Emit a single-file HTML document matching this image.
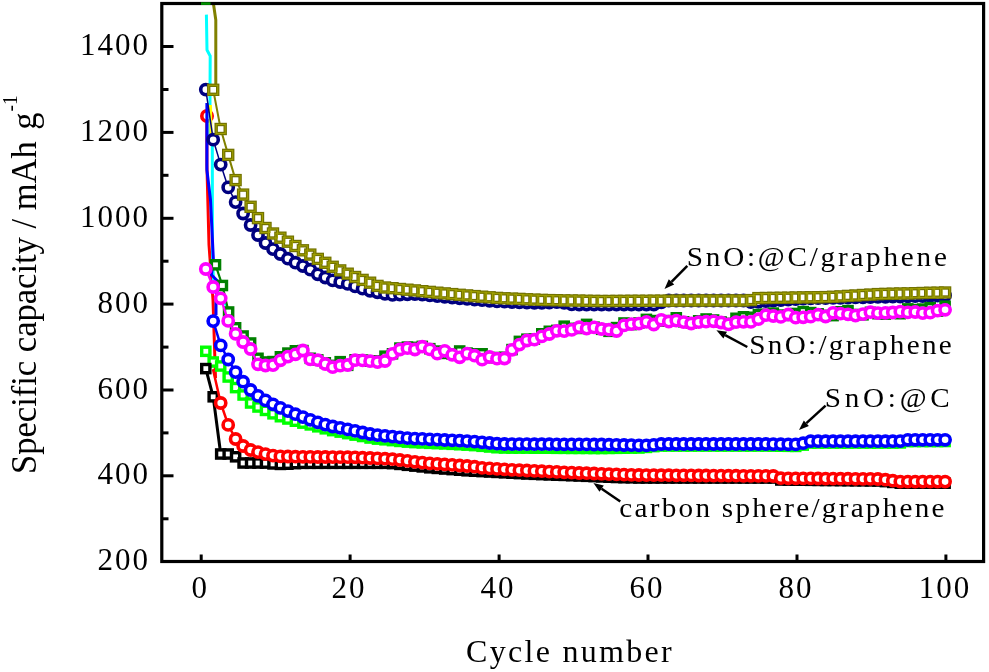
<!DOCTYPE html>
<html><head><meta charset="utf-8"><style>
html,body{margin:0;padding:0;background:#fff;width:989px;height:672px;overflow:hidden}
svg{display:block;filter:blur(0.45px)}
text{font-family:"Liberation Serif",serif;fill:#000}
.tk{font-size:31px;letter-spacing:2px}
.ax{font-size:32px;letter-spacing:2.3px}
.ay{font-size:36px}
.lg{font-size:27px;letter-spacing:3.8px}
</style></head><body>
<svg width="989" height="672" viewBox="0 0 989 672">
<defs><clipPath id="pc"><rect x="163" y="5" width="819" height="555"/></clipPath></defs><g clip-path="url(#pc)"><circle cx="207.0" cy="116.0" r="5.2" fill="#fff" stroke="#ff0000" stroke-width="3.6"/><polyline points="206.9,120.0 206.9,165.0 209.0,245.0 213.0,300.0 215.5,378.0" fill="none" stroke="#ff0000" stroke-width="3" stroke-linejoin="round"/><polyline points="206.4,14.6 207.0,50.0 210.2,56.0 210.0,95.0 210.0,138.0 212.3,145.0 212.5,260.0 214.0,290.0 227.0,306.0" fill="none" stroke="#00ffff" stroke-width="3" stroke-linejoin="round"/><polyline points="210.5,105.0 211.0,135.0" fill="none" stroke="#ffff00" stroke-width="3" stroke-linejoin="round"/><polyline points="206.9,103.0 206.9,170.0 210.5,200.0 213.4,260.0 211.4,274.8 218.0,281.5 216.0,303.0 216.0,315.0" fill="none" stroke="#0000ff" stroke-width="3" stroke-linejoin="round"/><polyline points="205.8,89.6 213.2,139.7 220.7,164.6 228.2,187.4 235.6,202.1 243.1,213.5 250.6,225.0 258.0,235.0 265.5,243.0 273.0,249.1 280.4,254.0 287.9,258.7 295.4,262.7 302.9,266.0 310.3,269.7 317.8,274.3 325.3,277.5 332.7,280.4 340.2,282.0 347.7,283.9 355.1,286.4 362.6,288.7 370.1,290.8 377.5,292.3 385.0,293.8 392.5,294.9 399.9,294.6 407.4,294.3 414.9,294.0 422.3,294.6 429.8,295.4 437.3,296.1 444.7,296.8 452.2,297.5 459.7,298.3 467.1,298.9 474.6,299.6 482.1,300.2 489.6,300.8 497.0,301.4 504.5,301.7 512.0,302.0 519.4,302.3 526.9,302.5 534.4,302.8 541.8,302.9 549.3,302.5 556.8,302.2 564.2,302.9 571.7,304.4 579.2,304.5 586.6,304.5 594.1,304.5 601.6,304.5 609.0,304.5 616.5,304.5 624.0,304.5 631.4,304.5 638.9,304.5 646.4,304.5 653.8,304.5 661.3,302.3 668.8,300.5 676.3,300.5 683.7,300.5 691.2,300.5 698.7,300.5 706.1,300.5 713.6,300.5 721.1,300.5 728.5,300.5 736.0,300.5 743.5,300.5 750.9,302.2 758.4,301.8 765.9,301.0 773.3,300.5 780.8,300.1 788.3,299.7 795.7,299.2 803.2,298.7 810.7,298.4 818.1,298.2 825.6,298.1 833.1,297.9 840.5,297.8 848.0,297.6 855.5,297.4 863.0,297.3 870.4,297.1 877.9,296.9 885.4,296.8 892.8,296.6 900.3,296.5 907.8,296.3 915.2,296.1 922.7,296.0 930.2,295.8 937.6,295.7 945.1,295.5" fill="none" stroke="#000080" stroke-width="1.5" stroke-linejoin="round"/><circle cx="205.8" cy="89.6" r="5.1" fill="#fff" stroke="#000080" stroke-width="3.6"/><circle cx="213.2" cy="139.7" r="5.1" fill="#fff" stroke="#000080" stroke-width="3.6"/><circle cx="220.7" cy="164.6" r="5.1" fill="#fff" stroke="#000080" stroke-width="3.6"/><circle cx="228.2" cy="187.4" r="5.1" fill="#fff" stroke="#000080" stroke-width="3.6"/><circle cx="235.6" cy="202.1" r="5.1" fill="#fff" stroke="#000080" stroke-width="3.6"/><circle cx="243.1" cy="213.5" r="5.1" fill="#fff" stroke="#000080" stroke-width="3.6"/><circle cx="250.6" cy="225.0" r="5.1" fill="#fff" stroke="#000080" stroke-width="3.6"/><circle cx="258.0" cy="235.0" r="5.1" fill="#fff" stroke="#000080" stroke-width="3.6"/><circle cx="265.5" cy="243.0" r="5.1" fill="#fff" stroke="#000080" stroke-width="3.6"/><circle cx="273.0" cy="249.1" r="5.1" fill="#fff" stroke="#000080" stroke-width="3.6"/><circle cx="280.4" cy="254.0" r="5.1" fill="#fff" stroke="#000080" stroke-width="3.6"/><circle cx="287.9" cy="258.7" r="5.1" fill="#fff" stroke="#000080" stroke-width="3.6"/><circle cx="295.4" cy="262.7" r="5.1" fill="#fff" stroke="#000080" stroke-width="3.6"/><circle cx="302.9" cy="266.0" r="5.1" fill="#fff" stroke="#000080" stroke-width="3.6"/><circle cx="310.3" cy="269.7" r="5.1" fill="#fff" stroke="#000080" stroke-width="3.6"/><circle cx="317.8" cy="274.3" r="5.1" fill="#fff" stroke="#000080" stroke-width="3.6"/><circle cx="325.3" cy="277.5" r="5.1" fill="#fff" stroke="#000080" stroke-width="3.6"/><circle cx="332.7" cy="280.4" r="5.1" fill="#fff" stroke="#000080" stroke-width="3.6"/><circle cx="340.2" cy="282.0" r="5.1" fill="#fff" stroke="#000080" stroke-width="3.6"/><circle cx="347.7" cy="283.9" r="5.1" fill="#fff" stroke="#000080" stroke-width="3.6"/><circle cx="355.1" cy="286.4" r="5.1" fill="#fff" stroke="#000080" stroke-width="3.6"/><circle cx="362.6" cy="288.7" r="5.1" fill="#fff" stroke="#000080" stroke-width="3.6"/><circle cx="370.1" cy="290.8" r="5.1" fill="#fff" stroke="#000080" stroke-width="3.6"/><circle cx="377.5" cy="292.3" r="5.1" fill="#fff" stroke="#000080" stroke-width="3.6"/><circle cx="385.0" cy="293.8" r="5.1" fill="#fff" stroke="#000080" stroke-width="3.6"/><circle cx="392.5" cy="294.9" r="5.1" fill="#fff" stroke="#000080" stroke-width="3.6"/><circle cx="399.9" cy="294.6" r="5.1" fill="#fff" stroke="#000080" stroke-width="3.6"/><circle cx="407.4" cy="294.3" r="5.1" fill="#fff" stroke="#000080" stroke-width="3.6"/><circle cx="414.9" cy="294.0" r="5.1" fill="#fff" stroke="#000080" stroke-width="3.6"/><circle cx="422.3" cy="294.6" r="5.1" fill="#fff" stroke="#000080" stroke-width="3.6"/><circle cx="429.8" cy="295.4" r="5.1" fill="#fff" stroke="#000080" stroke-width="3.6"/><circle cx="437.3" cy="296.1" r="5.1" fill="#fff" stroke="#000080" stroke-width="3.6"/><circle cx="444.7" cy="296.8" r="5.1" fill="#fff" stroke="#000080" stroke-width="3.6"/><circle cx="452.2" cy="297.5" r="5.1" fill="#fff" stroke="#000080" stroke-width="3.6"/><circle cx="459.7" cy="298.3" r="5.1" fill="#fff" stroke="#000080" stroke-width="3.6"/><circle cx="467.1" cy="298.9" r="5.1" fill="#fff" stroke="#000080" stroke-width="3.6"/><circle cx="474.6" cy="299.6" r="5.1" fill="#fff" stroke="#000080" stroke-width="3.6"/><circle cx="482.1" cy="300.2" r="5.1" fill="#fff" stroke="#000080" stroke-width="3.6"/><circle cx="489.6" cy="300.8" r="5.1" fill="#fff" stroke="#000080" stroke-width="3.6"/><circle cx="497.0" cy="301.4" r="5.1" fill="#fff" stroke="#000080" stroke-width="3.6"/><circle cx="504.5" cy="301.7" r="5.1" fill="#fff" stroke="#000080" stroke-width="3.6"/><circle cx="512.0" cy="302.0" r="5.1" fill="#fff" stroke="#000080" stroke-width="3.6"/><circle cx="519.4" cy="302.3" r="5.1" fill="#fff" stroke="#000080" stroke-width="3.6"/><circle cx="526.9" cy="302.5" r="5.1" fill="#fff" stroke="#000080" stroke-width="3.6"/><circle cx="534.4" cy="302.8" r="5.1" fill="#fff" stroke="#000080" stroke-width="3.6"/><circle cx="541.8" cy="302.9" r="5.1" fill="#fff" stroke="#000080" stroke-width="3.6"/><circle cx="549.3" cy="302.5" r="5.1" fill="#fff" stroke="#000080" stroke-width="3.6"/><circle cx="556.8" cy="302.2" r="5.1" fill="#fff" stroke="#000080" stroke-width="3.6"/><circle cx="564.2" cy="302.9" r="5.1" fill="#fff" stroke="#000080" stroke-width="3.6"/><circle cx="571.7" cy="304.4" r="5.1" fill="#fff" stroke="#000080" stroke-width="3.6"/><circle cx="579.2" cy="304.5" r="5.1" fill="#fff" stroke="#000080" stroke-width="3.6"/><circle cx="586.6" cy="304.5" r="5.1" fill="#fff" stroke="#000080" stroke-width="3.6"/><circle cx="594.1" cy="304.5" r="5.1" fill="#fff" stroke="#000080" stroke-width="3.6"/><circle cx="601.6" cy="304.5" r="5.1" fill="#fff" stroke="#000080" stroke-width="3.6"/><circle cx="609.0" cy="304.5" r="5.1" fill="#fff" stroke="#000080" stroke-width="3.6"/><circle cx="616.5" cy="304.5" r="5.1" fill="#fff" stroke="#000080" stroke-width="3.6"/><circle cx="624.0" cy="304.5" r="5.1" fill="#fff" stroke="#000080" stroke-width="3.6"/><circle cx="631.4" cy="304.5" r="5.1" fill="#fff" stroke="#000080" stroke-width="3.6"/><circle cx="638.9" cy="304.5" r="5.1" fill="#fff" stroke="#000080" stroke-width="3.6"/><circle cx="646.4" cy="304.5" r="5.1" fill="#fff" stroke="#000080" stroke-width="3.6"/><circle cx="653.8" cy="304.5" r="5.1" fill="#fff" stroke="#000080" stroke-width="3.6"/><circle cx="661.3" cy="302.3" r="5.1" fill="#fff" stroke="#000080" stroke-width="3.6"/><circle cx="668.8" cy="300.5" r="5.1" fill="#fff" stroke="#000080" stroke-width="3.6"/><circle cx="676.3" cy="300.5" r="5.1" fill="#fff" stroke="#000080" stroke-width="3.6"/><circle cx="683.7" cy="300.5" r="5.1" fill="#fff" stroke="#000080" stroke-width="3.6"/><circle cx="691.2" cy="300.5" r="5.1" fill="#fff" stroke="#000080" stroke-width="3.6"/><circle cx="698.7" cy="300.5" r="5.1" fill="#fff" stroke="#000080" stroke-width="3.6"/><circle cx="706.1" cy="300.5" r="5.1" fill="#fff" stroke="#000080" stroke-width="3.6"/><circle cx="713.6" cy="300.5" r="5.1" fill="#fff" stroke="#000080" stroke-width="3.6"/><circle cx="721.1" cy="300.5" r="5.1" fill="#fff" stroke="#000080" stroke-width="3.6"/><circle cx="728.5" cy="300.5" r="5.1" fill="#fff" stroke="#000080" stroke-width="3.6"/><circle cx="736.0" cy="300.5" r="5.1" fill="#fff" stroke="#000080" stroke-width="3.6"/><circle cx="743.5" cy="300.5" r="5.1" fill="#fff" stroke="#000080" stroke-width="3.6"/><circle cx="750.9" cy="302.2" r="5.1" fill="#fff" stroke="#000080" stroke-width="3.6"/><circle cx="758.4" cy="301.8" r="5.1" fill="#fff" stroke="#000080" stroke-width="3.6"/><circle cx="765.9" cy="301.0" r="5.1" fill="#fff" stroke="#000080" stroke-width="3.6"/><circle cx="773.3" cy="300.5" r="5.1" fill="#fff" stroke="#000080" stroke-width="3.6"/><circle cx="780.8" cy="300.1" r="5.1" fill="#fff" stroke="#000080" stroke-width="3.6"/><circle cx="788.3" cy="299.7" r="5.1" fill="#fff" stroke="#000080" stroke-width="3.6"/><circle cx="795.7" cy="299.2" r="5.1" fill="#fff" stroke="#000080" stroke-width="3.6"/><circle cx="803.2" cy="298.7" r="5.1" fill="#fff" stroke="#000080" stroke-width="3.6"/><circle cx="810.7" cy="298.4" r="5.1" fill="#fff" stroke="#000080" stroke-width="3.6"/><circle cx="818.1" cy="298.2" r="5.1" fill="#fff" stroke="#000080" stroke-width="3.6"/><circle cx="825.6" cy="298.1" r="5.1" fill="#fff" stroke="#000080" stroke-width="3.6"/><circle cx="833.1" cy="297.9" r="5.1" fill="#fff" stroke="#000080" stroke-width="3.6"/><circle cx="840.5" cy="297.8" r="5.1" fill="#fff" stroke="#000080" stroke-width="3.6"/><circle cx="848.0" cy="297.6" r="5.1" fill="#fff" stroke="#000080" stroke-width="3.6"/><circle cx="855.5" cy="297.4" r="5.1" fill="#fff" stroke="#000080" stroke-width="3.6"/><circle cx="863.0" cy="297.3" r="5.1" fill="#fff" stroke="#000080" stroke-width="3.6"/><circle cx="870.4" cy="297.1" r="5.1" fill="#fff" stroke="#000080" stroke-width="3.6"/><circle cx="877.9" cy="296.9" r="5.1" fill="#fff" stroke="#000080" stroke-width="3.6"/><circle cx="885.4" cy="296.8" r="5.1" fill="#fff" stroke="#000080" stroke-width="3.6"/><circle cx="892.8" cy="296.6" r="5.1" fill="#fff" stroke="#000080" stroke-width="3.6"/><circle cx="900.3" cy="296.5" r="5.1" fill="#fff" stroke="#000080" stroke-width="3.6"/><circle cx="907.8" cy="296.3" r="5.1" fill="#fff" stroke="#000080" stroke-width="3.6"/><circle cx="915.2" cy="296.1" r="5.1" fill="#fff" stroke="#000080" stroke-width="3.6"/><circle cx="922.7" cy="296.0" r="5.1" fill="#fff" stroke="#000080" stroke-width="3.6"/><circle cx="930.2" cy="295.8" r="5.1" fill="#fff" stroke="#000080" stroke-width="3.6"/><circle cx="937.6" cy="295.7" r="5.1" fill="#fff" stroke="#000080" stroke-width="3.6"/><circle cx="945.1" cy="295.5" r="5.1" fill="#fff" stroke="#000080" stroke-width="3.6"/><polyline points="212.2,-5.0 215.8,20.0 215.8,85.0" fill="none" stroke="#808000" stroke-width="3" stroke-linejoin="round"/><polyline points="213.2,89.8 220.7,129.0 228.2,154.9 235.6,180.1 243.1,194.6 250.6,206.8 258.0,218.1 265.5,228.0 273.0,233.5 280.4,237.7 287.9,241.7 295.4,246.0 302.9,250.3 310.3,254.6 317.8,258.9 325.3,262.8 332.7,266.8 340.2,270.4 347.7,273.7 355.1,277.0 362.6,279.9 370.1,282.7 377.5,285.9 385.0,287.5 392.5,288.2 399.9,289.0 407.4,289.7 414.9,290.4 422.3,291.2 429.8,291.9 437.3,292.7 444.7,293.4 452.2,294.1 459.7,294.8 467.1,295.4 474.6,296.1 482.1,296.7 489.6,297.3 497.0,297.9 504.5,298.3 512.0,298.6 519.4,298.9 526.9,299.3 534.4,299.6 541.8,299.9 549.3,300.1 556.8,300.2 564.2,300.4 571.7,300.5 579.2,300.6 586.6,300.8 594.1,300.9 601.6,301.0 609.0,301.0 616.5,300.9 624.0,300.9 631.4,300.8 638.9,300.8 646.4,300.8 653.8,300.7 661.3,300.7 668.8,300.7 676.3,300.6 683.7,300.6 691.2,300.5 698.7,300.5 706.1,300.5 713.6,300.5 721.1,300.5 728.5,300.5 736.0,300.5 743.5,300.5 750.9,300.1 758.4,298.1 765.9,298.0 773.3,297.9 780.8,297.8 788.3,297.7 795.7,297.5 803.2,297.4 810.7,297.3 818.1,297.2 825.6,297.1 833.1,296.8 840.5,296.4 848.0,295.9 855.5,295.5 863.0,295.0 870.4,294.6 877.9,294.1 885.4,293.9 892.8,293.7 900.3,293.5 907.8,293.4 915.2,293.2 922.7,293.0 930.2,292.8 937.6,292.7 945.1,292.5" fill="none" stroke="#808000" stroke-width="2" stroke-linejoin="round"/><rect x="208.7" y="85.3" width="9" height="9" fill="#fff" stroke="#727200" stroke-width="3.4"/><rect x="216.2" y="124.5" width="9" height="9" fill="#fff" stroke="#727200" stroke-width="3.4"/><rect x="223.7" y="150.4" width="9" height="9" fill="#fff" stroke="#727200" stroke-width="3.4"/><rect x="231.1" y="175.6" width="9" height="9" fill="#fff" stroke="#727200" stroke-width="3.4"/><rect x="238.6" y="190.1" width="9" height="9" fill="#fff" stroke="#727200" stroke-width="3.4"/><rect x="246.1" y="202.3" width="9" height="9" fill="#fff" stroke="#727200" stroke-width="3.4"/><rect x="253.5" y="213.6" width="9" height="9" fill="#fff" stroke="#727200" stroke-width="3.4"/><rect x="261.0" y="223.5" width="9" height="9" fill="#fff" stroke="#727200" stroke-width="3.4"/><rect x="268.5" y="229.0" width="9" height="9" fill="#fff" stroke="#727200" stroke-width="3.4"/><rect x="275.9" y="233.2" width="9" height="9" fill="#fff" stroke="#727200" stroke-width="3.4"/><rect x="283.4" y="237.2" width="9" height="9" fill="#fff" stroke="#727200" stroke-width="3.4"/><rect x="290.9" y="241.5" width="9" height="9" fill="#fff" stroke="#727200" stroke-width="3.4"/><rect x="298.4" y="245.8" width="9" height="9" fill="#fff" stroke="#727200" stroke-width="3.4"/><rect x="305.8" y="250.1" width="9" height="9" fill="#fff" stroke="#727200" stroke-width="3.4"/><rect x="313.3" y="254.4" width="9" height="9" fill="#fff" stroke="#727200" stroke-width="3.4"/><rect x="320.8" y="258.3" width="9" height="9" fill="#fff" stroke="#727200" stroke-width="3.4"/><rect x="328.2" y="262.3" width="9" height="9" fill="#fff" stroke="#727200" stroke-width="3.4"/><rect x="335.7" y="265.9" width="9" height="9" fill="#fff" stroke="#727200" stroke-width="3.4"/><rect x="343.2" y="269.2" width="9" height="9" fill="#fff" stroke="#727200" stroke-width="3.4"/><rect x="350.6" y="272.5" width="9" height="9" fill="#fff" stroke="#727200" stroke-width="3.4"/><rect x="358.1" y="275.4" width="9" height="9" fill="#fff" stroke="#727200" stroke-width="3.4"/><rect x="365.6" y="278.2" width="9" height="9" fill="#fff" stroke="#727200" stroke-width="3.4"/><rect x="373.0" y="281.4" width="9" height="9" fill="#fff" stroke="#727200" stroke-width="3.4"/><rect x="380.5" y="283.0" width="9" height="9" fill="#fff" stroke="#727200" stroke-width="3.4"/><rect x="388.0" y="283.7" width="9" height="9" fill="#fff" stroke="#727200" stroke-width="3.4"/><rect x="395.4" y="284.5" width="9" height="9" fill="#fff" stroke="#727200" stroke-width="3.4"/><rect x="402.9" y="285.2" width="9" height="9" fill="#fff" stroke="#727200" stroke-width="3.4"/><rect x="410.4" y="285.9" width="9" height="9" fill="#fff" stroke="#727200" stroke-width="3.4"/><rect x="417.8" y="286.7" width="9" height="9" fill="#fff" stroke="#727200" stroke-width="3.4"/><rect x="425.3" y="287.4" width="9" height="9" fill="#fff" stroke="#727200" stroke-width="3.4"/><rect x="432.8" y="288.2" width="9" height="9" fill="#fff" stroke="#727200" stroke-width="3.4"/><rect x="440.2" y="288.9" width="9" height="9" fill="#fff" stroke="#727200" stroke-width="3.4"/><rect x="447.7" y="289.6" width="9" height="9" fill="#fff" stroke="#727200" stroke-width="3.4"/><rect x="455.2" y="290.3" width="9" height="9" fill="#fff" stroke="#727200" stroke-width="3.4"/><rect x="462.6" y="290.9" width="9" height="9" fill="#fff" stroke="#727200" stroke-width="3.4"/><rect x="470.1" y="291.6" width="9" height="9" fill="#fff" stroke="#727200" stroke-width="3.4"/><rect x="477.6" y="292.2" width="9" height="9" fill="#fff" stroke="#727200" stroke-width="3.4"/><rect x="485.1" y="292.8" width="9" height="9" fill="#fff" stroke="#727200" stroke-width="3.4"/><rect x="492.5" y="293.4" width="9" height="9" fill="#fff" stroke="#727200" stroke-width="3.4"/><rect x="500.0" y="293.8" width="9" height="9" fill="#fff" stroke="#727200" stroke-width="3.4"/><rect x="507.5" y="294.1" width="9" height="9" fill="#fff" stroke="#727200" stroke-width="3.4"/><rect x="514.9" y="294.4" width="9" height="9" fill="#fff" stroke="#727200" stroke-width="3.4"/><rect x="522.4" y="294.8" width="9" height="9" fill="#fff" stroke="#727200" stroke-width="3.4"/><rect x="529.9" y="295.1" width="9" height="9" fill="#fff" stroke="#727200" stroke-width="3.4"/><rect x="537.3" y="295.4" width="9" height="9" fill="#fff" stroke="#727200" stroke-width="3.4"/><rect x="544.8" y="295.6" width="9" height="9" fill="#fff" stroke="#727200" stroke-width="3.4"/><rect x="552.3" y="295.7" width="9" height="9" fill="#fff" stroke="#727200" stroke-width="3.4"/><rect x="559.7" y="295.9" width="9" height="9" fill="#fff" stroke="#727200" stroke-width="3.4"/><rect x="567.2" y="296.0" width="9" height="9" fill="#fff" stroke="#727200" stroke-width="3.4"/><rect x="574.7" y="296.1" width="9" height="9" fill="#fff" stroke="#727200" stroke-width="3.4"/><rect x="582.1" y="296.3" width="9" height="9" fill="#fff" stroke="#727200" stroke-width="3.4"/><rect x="589.6" y="296.4" width="9" height="9" fill="#fff" stroke="#727200" stroke-width="3.4"/><rect x="597.1" y="296.5" width="9" height="9" fill="#fff" stroke="#727200" stroke-width="3.4"/><rect x="604.5" y="296.5" width="9" height="9" fill="#fff" stroke="#727200" stroke-width="3.4"/><rect x="612.0" y="296.4" width="9" height="9" fill="#fff" stroke="#727200" stroke-width="3.4"/><rect x="619.5" y="296.4" width="9" height="9" fill="#fff" stroke="#727200" stroke-width="3.4"/><rect x="626.9" y="296.3" width="9" height="9" fill="#fff" stroke="#727200" stroke-width="3.4"/><rect x="634.4" y="296.3" width="9" height="9" fill="#fff" stroke="#727200" stroke-width="3.4"/><rect x="641.9" y="296.3" width="9" height="9" fill="#fff" stroke="#727200" stroke-width="3.4"/><rect x="649.3" y="296.2" width="9" height="9" fill="#fff" stroke="#727200" stroke-width="3.4"/><rect x="656.8" y="296.2" width="9" height="9" fill="#fff" stroke="#727200" stroke-width="3.4"/><rect x="664.3" y="296.2" width="9" height="9" fill="#fff" stroke="#727200" stroke-width="3.4"/><rect x="671.8" y="296.1" width="9" height="9" fill="#fff" stroke="#727200" stroke-width="3.4"/><rect x="679.2" y="296.1" width="9" height="9" fill="#fff" stroke="#727200" stroke-width="3.4"/><rect x="686.7" y="296.0" width="9" height="9" fill="#fff" stroke="#727200" stroke-width="3.4"/><rect x="694.2" y="296.0" width="9" height="9" fill="#fff" stroke="#727200" stroke-width="3.4"/><rect x="701.6" y="296.0" width="9" height="9" fill="#fff" stroke="#727200" stroke-width="3.4"/><rect x="709.1" y="296.0" width="9" height="9" fill="#fff" stroke="#727200" stroke-width="3.4"/><rect x="716.6" y="296.0" width="9" height="9" fill="#fff" stroke="#727200" stroke-width="3.4"/><rect x="724.0" y="296.0" width="9" height="9" fill="#fff" stroke="#727200" stroke-width="3.4"/><rect x="731.5" y="296.0" width="9" height="9" fill="#fff" stroke="#727200" stroke-width="3.4"/><rect x="739.0" y="296.0" width="9" height="9" fill="#fff" stroke="#727200" stroke-width="3.4"/><rect x="746.4" y="295.6" width="9" height="9" fill="#fff" stroke="#727200" stroke-width="3.4"/><rect x="753.9" y="293.6" width="9" height="9" fill="#fff" stroke="#727200" stroke-width="3.4"/><rect x="761.4" y="293.5" width="9" height="9" fill="#fff" stroke="#727200" stroke-width="3.4"/><rect x="768.8" y="293.4" width="9" height="9" fill="#fff" stroke="#727200" stroke-width="3.4"/><rect x="776.3" y="293.3" width="9" height="9" fill="#fff" stroke="#727200" stroke-width="3.4"/><rect x="783.8" y="293.2" width="9" height="9" fill="#fff" stroke="#727200" stroke-width="3.4"/><rect x="791.2" y="293.0" width="9" height="9" fill="#fff" stroke="#727200" stroke-width="3.4"/><rect x="798.7" y="292.9" width="9" height="9" fill="#fff" stroke="#727200" stroke-width="3.4"/><rect x="806.2" y="292.8" width="9" height="9" fill="#fff" stroke="#727200" stroke-width="3.4"/><rect x="813.6" y="292.7" width="9" height="9" fill="#fff" stroke="#727200" stroke-width="3.4"/><rect x="821.1" y="292.6" width="9" height="9" fill="#fff" stroke="#727200" stroke-width="3.4"/><rect x="828.6" y="292.3" width="9" height="9" fill="#fff" stroke="#727200" stroke-width="3.4"/><rect x="836.0" y="291.9" width="9" height="9" fill="#fff" stroke="#727200" stroke-width="3.4"/><rect x="843.5" y="291.4" width="9" height="9" fill="#fff" stroke="#727200" stroke-width="3.4"/><rect x="851.0" y="291.0" width="9" height="9" fill="#fff" stroke="#727200" stroke-width="3.4"/><rect x="858.5" y="290.5" width="9" height="9" fill="#fff" stroke="#727200" stroke-width="3.4"/><rect x="865.9" y="290.1" width="9" height="9" fill="#fff" stroke="#727200" stroke-width="3.4"/><rect x="873.4" y="289.6" width="9" height="9" fill="#fff" stroke="#727200" stroke-width="3.4"/><rect x="880.9" y="289.4" width="9" height="9" fill="#fff" stroke="#727200" stroke-width="3.4"/><rect x="888.3" y="289.2" width="9" height="9" fill="#fff" stroke="#727200" stroke-width="3.4"/><rect x="895.8" y="289.0" width="9" height="9" fill="#fff" stroke="#727200" stroke-width="3.4"/><rect x="903.3" y="288.9" width="9" height="9" fill="#fff" stroke="#727200" stroke-width="3.4"/><rect x="910.7" y="288.7" width="9" height="9" fill="#fff" stroke="#727200" stroke-width="3.4"/><rect x="918.2" y="288.5" width="9" height="9" fill="#fff" stroke="#727200" stroke-width="3.4"/><rect x="925.7" y="288.3" width="9" height="9" fill="#fff" stroke="#727200" stroke-width="3.4"/><rect x="933.1" y="288.2" width="9" height="9" fill="#fff" stroke="#727200" stroke-width="3.4"/><rect x="940.6" y="288.0" width="9" height="9" fill="#fff" stroke="#727200" stroke-width="3.4"/><rect x="208.7" y="85.3" width="9" height="9" fill="none" stroke="#a0a000" stroke-width="1.0"/><rect x="216.2" y="124.5" width="9" height="9" fill="none" stroke="#a0a000" stroke-width="1.0"/><rect x="223.7" y="150.4" width="9" height="9" fill="none" stroke="#a0a000" stroke-width="1.0"/><rect x="231.1" y="175.6" width="9" height="9" fill="none" stroke="#a0a000" stroke-width="1.0"/><rect x="238.6" y="190.1" width="9" height="9" fill="none" stroke="#a0a000" stroke-width="1.0"/><rect x="246.1" y="202.3" width="9" height="9" fill="none" stroke="#a0a000" stroke-width="1.0"/><rect x="253.5" y="213.6" width="9" height="9" fill="none" stroke="#a0a000" stroke-width="1.0"/><rect x="261.0" y="223.5" width="9" height="9" fill="none" stroke="#a0a000" stroke-width="1.0"/><rect x="268.5" y="229.0" width="9" height="9" fill="none" stroke="#a0a000" stroke-width="1.0"/><rect x="275.9" y="233.2" width="9" height="9" fill="none" stroke="#a0a000" stroke-width="1.0"/><rect x="283.4" y="237.2" width="9" height="9" fill="none" stroke="#a0a000" stroke-width="1.0"/><rect x="290.9" y="241.5" width="9" height="9" fill="none" stroke="#a0a000" stroke-width="1.0"/><rect x="298.4" y="245.8" width="9" height="9" fill="none" stroke="#a0a000" stroke-width="1.0"/><rect x="305.8" y="250.1" width="9" height="9" fill="none" stroke="#a0a000" stroke-width="1.0"/><rect x="313.3" y="254.4" width="9" height="9" fill="none" stroke="#a0a000" stroke-width="1.0"/><rect x="320.8" y="258.3" width="9" height="9" fill="none" stroke="#a0a000" stroke-width="1.0"/><rect x="328.2" y="262.3" width="9" height="9" fill="none" stroke="#a0a000" stroke-width="1.0"/><rect x="335.7" y="265.9" width="9" height="9" fill="none" stroke="#a0a000" stroke-width="1.0"/><rect x="343.2" y="269.2" width="9" height="9" fill="none" stroke="#a0a000" stroke-width="1.0"/><rect x="350.6" y="272.5" width="9" height="9" fill="none" stroke="#a0a000" stroke-width="1.0"/><rect x="358.1" y="275.4" width="9" height="9" fill="none" stroke="#a0a000" stroke-width="1.0"/><rect x="365.6" y="278.2" width="9" height="9" fill="none" stroke="#a0a000" stroke-width="1.0"/><rect x="373.0" y="281.4" width="9" height="9" fill="none" stroke="#a0a000" stroke-width="1.0"/><rect x="380.5" y="283.0" width="9" height="9" fill="none" stroke="#a0a000" stroke-width="1.0"/><rect x="388.0" y="283.7" width="9" height="9" fill="none" stroke="#a0a000" stroke-width="1.0"/><rect x="395.4" y="284.5" width="9" height="9" fill="none" stroke="#a0a000" stroke-width="1.0"/><rect x="402.9" y="285.2" width="9" height="9" fill="none" stroke="#a0a000" stroke-width="1.0"/><rect x="410.4" y="285.9" width="9" height="9" fill="none" stroke="#a0a000" stroke-width="1.0"/><rect x="417.8" y="286.7" width="9" height="9" fill="none" stroke="#a0a000" stroke-width="1.0"/><rect x="425.3" y="287.4" width="9" height="9" fill="none" stroke="#a0a000" stroke-width="1.0"/><rect x="432.8" y="288.2" width="9" height="9" fill="none" stroke="#a0a000" stroke-width="1.0"/><rect x="440.2" y="288.9" width="9" height="9" fill="none" stroke="#a0a000" stroke-width="1.0"/><rect x="447.7" y="289.6" width="9" height="9" fill="none" stroke="#a0a000" stroke-width="1.0"/><rect x="455.2" y="290.3" width="9" height="9" fill="none" stroke="#a0a000" stroke-width="1.0"/><rect x="462.6" y="290.9" width="9" height="9" fill="none" stroke="#a0a000" stroke-width="1.0"/><rect x="470.1" y="291.6" width="9" height="9" fill="none" stroke="#a0a000" stroke-width="1.0"/><rect x="477.6" y="292.2" width="9" height="9" fill="none" stroke="#a0a000" stroke-width="1.0"/><rect x="485.1" y="292.8" width="9" height="9" fill="none" stroke="#a0a000" stroke-width="1.0"/><rect x="492.5" y="293.4" width="9" height="9" fill="none" stroke="#a0a000" stroke-width="1.0"/><rect x="500.0" y="293.8" width="9" height="9" fill="none" stroke="#a0a000" stroke-width="1.0"/><rect x="507.5" y="294.1" width="9" height="9" fill="none" stroke="#a0a000" stroke-width="1.0"/><rect x="514.9" y="294.4" width="9" height="9" fill="none" stroke="#a0a000" stroke-width="1.0"/><rect x="522.4" y="294.8" width="9" height="9" fill="none" stroke="#a0a000" stroke-width="1.0"/><rect x="529.9" y="295.1" width="9" height="9" fill="none" stroke="#a0a000" stroke-width="1.0"/><rect x="537.3" y="295.4" width="9" height="9" fill="none" stroke="#a0a000" stroke-width="1.0"/><rect x="544.8" y="295.6" width="9" height="9" fill="none" stroke="#a0a000" stroke-width="1.0"/><rect x="552.3" y="295.7" width="9" height="9" fill="none" stroke="#a0a000" stroke-width="1.0"/><rect x="559.7" y="295.9" width="9" height="9" fill="none" stroke="#a0a000" stroke-width="1.0"/><rect x="567.2" y="296.0" width="9" height="9" fill="none" stroke="#a0a000" stroke-width="1.0"/><rect x="574.7" y="296.1" width="9" height="9" fill="none" stroke="#a0a000" stroke-width="1.0"/><rect x="582.1" y="296.3" width="9" height="9" fill="none" stroke="#a0a000" stroke-width="1.0"/><rect x="589.6" y="296.4" width="9" height="9" fill="none" stroke="#a0a000" stroke-width="1.0"/><rect x="597.1" y="296.5" width="9" height="9" fill="none" stroke="#a0a000" stroke-width="1.0"/><rect x="604.5" y="296.5" width="9" height="9" fill="none" stroke="#a0a000" stroke-width="1.0"/><rect x="612.0" y="296.4" width="9" height="9" fill="none" stroke="#a0a000" stroke-width="1.0"/><rect x="619.5" y="296.4" width="9" height="9" fill="none" stroke="#a0a000" stroke-width="1.0"/><rect x="626.9" y="296.3" width="9" height="9" fill="none" stroke="#a0a000" stroke-width="1.0"/><rect x="634.4" y="296.3" width="9" height="9" fill="none" stroke="#a0a000" stroke-width="1.0"/><rect x="641.9" y="296.3" width="9" height="9" fill="none" stroke="#a0a000" stroke-width="1.0"/><rect x="649.3" y="296.2" width="9" height="9" fill="none" stroke="#a0a000" stroke-width="1.0"/><rect x="656.8" y="296.2" width="9" height="9" fill="none" stroke="#a0a000" stroke-width="1.0"/><rect x="664.3" y="296.2" width="9" height="9" fill="none" stroke="#a0a000" stroke-width="1.0"/><rect x="671.8" y="296.1" width="9" height="9" fill="none" stroke="#a0a000" stroke-width="1.0"/><rect x="679.2" y="296.1" width="9" height="9" fill="none" stroke="#a0a000" stroke-width="1.0"/><rect x="686.7" y="296.0" width="9" height="9" fill="none" stroke="#a0a000" stroke-width="1.0"/><rect x="694.2" y="296.0" width="9" height="9" fill="none" stroke="#a0a000" stroke-width="1.0"/><rect x="701.6" y="296.0" width="9" height="9" fill="none" stroke="#a0a000" stroke-width="1.0"/><rect x="709.1" y="296.0" width="9" height="9" fill="none" stroke="#a0a000" stroke-width="1.0"/><rect x="716.6" y="296.0" width="9" height="9" fill="none" stroke="#a0a000" stroke-width="1.0"/><rect x="724.0" y="296.0" width="9" height="9" fill="none" stroke="#a0a000" stroke-width="1.0"/><rect x="731.5" y="296.0" width="9" height="9" fill="none" stroke="#a0a000" stroke-width="1.0"/><rect x="739.0" y="296.0" width="9" height="9" fill="none" stroke="#a0a000" stroke-width="1.0"/><rect x="746.4" y="295.6" width="9" height="9" fill="none" stroke="#a0a000" stroke-width="1.0"/><rect x="753.9" y="293.6" width="9" height="9" fill="none" stroke="#a0a000" stroke-width="1.0"/><rect x="761.4" y="293.5" width="9" height="9" fill="none" stroke="#a0a000" stroke-width="1.0"/><rect x="768.8" y="293.4" width="9" height="9" fill="none" stroke="#a0a000" stroke-width="1.0"/><rect x="776.3" y="293.3" width="9" height="9" fill="none" stroke="#a0a000" stroke-width="1.0"/><rect x="783.8" y="293.2" width="9" height="9" fill="none" stroke="#a0a000" stroke-width="1.0"/><rect x="791.2" y="293.0" width="9" height="9" fill="none" stroke="#a0a000" stroke-width="1.0"/><rect x="798.7" y="292.9" width="9" height="9" fill="none" stroke="#a0a000" stroke-width="1.0"/><rect x="806.2" y="292.8" width="9" height="9" fill="none" stroke="#a0a000" stroke-width="1.0"/><rect x="813.6" y="292.7" width="9" height="9" fill="none" stroke="#a0a000" stroke-width="1.0"/><rect x="821.1" y="292.6" width="9" height="9" fill="none" stroke="#a0a000" stroke-width="1.0"/><rect x="828.6" y="292.3" width="9" height="9" fill="none" stroke="#a0a000" stroke-width="1.0"/><rect x="836.0" y="291.9" width="9" height="9" fill="none" stroke="#a0a000" stroke-width="1.0"/><rect x="843.5" y="291.4" width="9" height="9" fill="none" stroke="#a0a000" stroke-width="1.0"/><rect x="851.0" y="291.0" width="9" height="9" fill="none" stroke="#a0a000" stroke-width="1.0"/><rect x="858.5" y="290.5" width="9" height="9" fill="none" stroke="#a0a000" stroke-width="1.0"/><rect x="865.9" y="290.1" width="9" height="9" fill="none" stroke="#a0a000" stroke-width="1.0"/><rect x="873.4" y="289.6" width="9" height="9" fill="none" stroke="#a0a000" stroke-width="1.0"/><rect x="880.9" y="289.4" width="9" height="9" fill="none" stroke="#a0a000" stroke-width="1.0"/><rect x="888.3" y="289.2" width="9" height="9" fill="none" stroke="#a0a000" stroke-width="1.0"/><rect x="895.8" y="289.0" width="9" height="9" fill="none" stroke="#a0a000" stroke-width="1.0"/><rect x="903.3" y="288.9" width="9" height="9" fill="none" stroke="#a0a000" stroke-width="1.0"/><rect x="910.7" y="288.7" width="9" height="9" fill="none" stroke="#a0a000" stroke-width="1.0"/><rect x="918.2" y="288.5" width="9" height="9" fill="none" stroke="#a0a000" stroke-width="1.0"/><rect x="925.7" y="288.3" width="9" height="9" fill="none" stroke="#a0a000" stroke-width="1.0"/><rect x="933.1" y="288.2" width="9" height="9" fill="none" stroke="#a0a000" stroke-width="1.0"/><rect x="940.6" y="288.0" width="9" height="9" fill="none" stroke="#a0a000" stroke-width="1.0"/><polyline points="215.5,264.8 222.4,285.5 228.6,312.0 235.6,327.8 243.1,336.0 250.6,343.0 258.0,358.3 265.5,362.0 273.0,361.6 280.4,356.8 287.9,353.1 295.4,350.8 302.9,350.6 310.3,358.3 317.8,359.9 325.3,362.8 332.7,365.4 340.2,361.7 347.7,365.3 355.1,359.8 362.6,360.0 370.1,361.2 377.5,360.8 385.0,356.2 392.5,353.8 399.9,348.1 407.4,347.1 414.9,347.4 422.3,346.4 429.8,348.7 437.3,351.1 444.7,353.4 452.2,354.1 459.7,351.0 467.1,353.1 474.6,353.8 482.1,353.8 489.6,357.6 497.0,357.6 504.5,357.3 512.0,349.6 519.4,341.4 526.9,339.2 534.4,339.1 541.8,333.8 549.3,331.3 556.8,330.4 564.2,326.2 571.7,328.4 579.2,328.4 586.6,324.4 594.1,327.2 601.6,329.3 609.0,331.3 616.5,327.6 624.0,323.0 631.4,324.6 638.9,323.0 646.4,319.4 653.8,320.6 661.3,321.1 668.8,320.6 676.3,317.8 683.7,321.8 691.2,322.9 698.7,320.8 706.1,319.0 713.6,320.0 721.1,322.0 728.5,323.4 736.0,318.3 743.5,316.8 750.9,317.3 758.4,314.6 765.9,314.3 773.3,313.1 780.8,315.1 788.3,315.4 795.7,313.5 803.2,311.6 810.7,312.6 818.1,313.8 825.6,315.4 833.1,315.6 840.5,311.8 848.0,310.6 855.5,314.5 863.0,314.8 870.4,312.3 877.9,313.7 885.4,314.1 892.8,312.6 900.3,313.7 907.8,308.9 915.2,309.6 922.7,309.1 930.2,307.7 937.6,311.1 945.1,306.2" fill="none" stroke="#008000" stroke-width="2.2" stroke-linejoin="round"/><rect x="211.4" y="260.7" width="8.2" height="8.2" fill="#fff" stroke="#008000" stroke-width="3.4"/><rect x="218.3" y="281.4" width="8.2" height="8.2" fill="#fff" stroke="#008000" stroke-width="3.4"/><rect x="224.5" y="307.9" width="8.2" height="8.2" fill="#fff" stroke="#008000" stroke-width="3.4"/><rect x="231.5" y="323.7" width="8.2" height="8.2" fill="#fff" stroke="#008000" stroke-width="3.4"/><rect x="239.0" y="331.9" width="8.2" height="8.2" fill="#fff" stroke="#008000" stroke-width="3.4"/><rect x="246.5" y="338.9" width="8.2" height="8.2" fill="#fff" stroke="#008000" stroke-width="3.4"/><rect x="253.9" y="354.2" width="8.2" height="8.2" fill="#fff" stroke="#008000" stroke-width="3.4"/><rect x="261.4" y="357.9" width="8.2" height="8.2" fill="#fff" stroke="#008000" stroke-width="3.4"/><rect x="268.9" y="357.5" width="8.2" height="8.2" fill="#fff" stroke="#008000" stroke-width="3.4"/><rect x="276.3" y="352.7" width="8.2" height="8.2" fill="#fff" stroke="#008000" stroke-width="3.4"/><rect x="283.8" y="349.0" width="8.2" height="8.2" fill="#fff" stroke="#008000" stroke-width="3.4"/><rect x="291.3" y="346.7" width="8.2" height="8.2" fill="#fff" stroke="#008000" stroke-width="3.4"/><rect x="298.8" y="346.5" width="8.2" height="8.2" fill="#fff" stroke="#008000" stroke-width="3.4"/><rect x="306.2" y="354.2" width="8.2" height="8.2" fill="#fff" stroke="#008000" stroke-width="3.4"/><rect x="313.7" y="355.8" width="8.2" height="8.2" fill="#fff" stroke="#008000" stroke-width="3.4"/><rect x="321.2" y="358.7" width="8.2" height="8.2" fill="#fff" stroke="#008000" stroke-width="3.4"/><rect x="328.6" y="361.3" width="8.2" height="8.2" fill="#fff" stroke="#008000" stroke-width="3.4"/><rect x="336.1" y="357.6" width="8.2" height="8.2" fill="#fff" stroke="#008000" stroke-width="3.4"/><rect x="343.6" y="361.2" width="8.2" height="8.2" fill="#fff" stroke="#008000" stroke-width="3.4"/><rect x="351.0" y="355.7" width="8.2" height="8.2" fill="#fff" stroke="#008000" stroke-width="3.4"/><rect x="358.5" y="355.9" width="8.2" height="8.2" fill="#fff" stroke="#008000" stroke-width="3.4"/><rect x="366.0" y="357.1" width="8.2" height="8.2" fill="#fff" stroke="#008000" stroke-width="3.4"/><rect x="373.4" y="356.7" width="8.2" height="8.2" fill="#fff" stroke="#008000" stroke-width="3.4"/><rect x="380.9" y="352.1" width="8.2" height="8.2" fill="#fff" stroke="#008000" stroke-width="3.4"/><rect x="388.4" y="349.7" width="8.2" height="8.2" fill="#fff" stroke="#008000" stroke-width="3.4"/><rect x="395.8" y="344.0" width="8.2" height="8.2" fill="#fff" stroke="#008000" stroke-width="3.4"/><rect x="403.3" y="343.0" width="8.2" height="8.2" fill="#fff" stroke="#008000" stroke-width="3.4"/><rect x="410.8" y="343.3" width="8.2" height="8.2" fill="#fff" stroke="#008000" stroke-width="3.4"/><rect x="418.2" y="342.3" width="8.2" height="8.2" fill="#fff" stroke="#008000" stroke-width="3.4"/><rect x="425.7" y="344.6" width="8.2" height="8.2" fill="#fff" stroke="#008000" stroke-width="3.4"/><rect x="433.2" y="347.0" width="8.2" height="8.2" fill="#fff" stroke="#008000" stroke-width="3.4"/><rect x="440.6" y="349.3" width="8.2" height="8.2" fill="#fff" stroke="#008000" stroke-width="3.4"/><rect x="448.1" y="350.0" width="8.2" height="8.2" fill="#fff" stroke="#008000" stroke-width="3.4"/><rect x="455.6" y="346.9" width="8.2" height="8.2" fill="#fff" stroke="#008000" stroke-width="3.4"/><rect x="463.0" y="349.0" width="8.2" height="8.2" fill="#fff" stroke="#008000" stroke-width="3.4"/><rect x="470.5" y="349.7" width="8.2" height="8.2" fill="#fff" stroke="#008000" stroke-width="3.4"/><rect x="478.0" y="349.7" width="8.2" height="8.2" fill="#fff" stroke="#008000" stroke-width="3.4"/><rect x="485.5" y="353.5" width="8.2" height="8.2" fill="#fff" stroke="#008000" stroke-width="3.4"/><rect x="492.9" y="353.5" width="8.2" height="8.2" fill="#fff" stroke="#008000" stroke-width="3.4"/><rect x="500.4" y="353.2" width="8.2" height="8.2" fill="#fff" stroke="#008000" stroke-width="3.4"/><rect x="507.9" y="345.5" width="8.2" height="8.2" fill="#fff" stroke="#008000" stroke-width="3.4"/><rect x="515.3" y="337.3" width="8.2" height="8.2" fill="#fff" stroke="#008000" stroke-width="3.4"/><rect x="522.8" y="335.1" width="8.2" height="8.2" fill="#fff" stroke="#008000" stroke-width="3.4"/><rect x="530.3" y="335.0" width="8.2" height="8.2" fill="#fff" stroke="#008000" stroke-width="3.4"/><rect x="537.7" y="329.7" width="8.2" height="8.2" fill="#fff" stroke="#008000" stroke-width="3.4"/><rect x="545.2" y="327.2" width="8.2" height="8.2" fill="#fff" stroke="#008000" stroke-width="3.4"/><rect x="552.7" y="326.3" width="8.2" height="8.2" fill="#fff" stroke="#008000" stroke-width="3.4"/><rect x="560.1" y="322.1" width="8.2" height="8.2" fill="#fff" stroke="#008000" stroke-width="3.4"/><rect x="567.6" y="324.3" width="8.2" height="8.2" fill="#fff" stroke="#008000" stroke-width="3.4"/><rect x="575.1" y="324.3" width="8.2" height="8.2" fill="#fff" stroke="#008000" stroke-width="3.4"/><rect x="582.5" y="320.3" width="8.2" height="8.2" fill="#fff" stroke="#008000" stroke-width="3.4"/><rect x="590.0" y="323.1" width="8.2" height="8.2" fill="#fff" stroke="#008000" stroke-width="3.4"/><rect x="597.5" y="325.2" width="8.2" height="8.2" fill="#fff" stroke="#008000" stroke-width="3.4"/><rect x="604.9" y="327.2" width="8.2" height="8.2" fill="#fff" stroke="#008000" stroke-width="3.4"/><rect x="612.4" y="323.5" width="8.2" height="8.2" fill="#fff" stroke="#008000" stroke-width="3.4"/><rect x="619.9" y="318.9" width="8.2" height="8.2" fill="#fff" stroke="#008000" stroke-width="3.4"/><rect x="627.3" y="320.5" width="8.2" height="8.2" fill="#fff" stroke="#008000" stroke-width="3.4"/><rect x="634.8" y="318.9" width="8.2" height="8.2" fill="#fff" stroke="#008000" stroke-width="3.4"/><rect x="642.3" y="315.3" width="8.2" height="8.2" fill="#fff" stroke="#008000" stroke-width="3.4"/><rect x="649.7" y="316.5" width="8.2" height="8.2" fill="#fff" stroke="#008000" stroke-width="3.4"/><rect x="657.2" y="317.0" width="8.2" height="8.2" fill="#fff" stroke="#008000" stroke-width="3.4"/><rect x="664.7" y="316.5" width="8.2" height="8.2" fill="#fff" stroke="#008000" stroke-width="3.4"/><rect x="672.2" y="313.7" width="8.2" height="8.2" fill="#fff" stroke="#008000" stroke-width="3.4"/><rect x="679.6" y="317.7" width="8.2" height="8.2" fill="#fff" stroke="#008000" stroke-width="3.4"/><rect x="687.1" y="318.8" width="8.2" height="8.2" fill="#fff" stroke="#008000" stroke-width="3.4"/><rect x="694.6" y="316.7" width="8.2" height="8.2" fill="#fff" stroke="#008000" stroke-width="3.4"/><rect x="702.0" y="314.9" width="8.2" height="8.2" fill="#fff" stroke="#008000" stroke-width="3.4"/><rect x="709.5" y="315.9" width="8.2" height="8.2" fill="#fff" stroke="#008000" stroke-width="3.4"/><rect x="717.0" y="317.9" width="8.2" height="8.2" fill="#fff" stroke="#008000" stroke-width="3.4"/><rect x="724.4" y="319.3" width="8.2" height="8.2" fill="#fff" stroke="#008000" stroke-width="3.4"/><rect x="731.9" y="314.2" width="8.2" height="8.2" fill="#fff" stroke="#008000" stroke-width="3.4"/><rect x="739.4" y="312.7" width="8.2" height="8.2" fill="#fff" stroke="#008000" stroke-width="3.4"/><rect x="746.8" y="313.2" width="8.2" height="8.2" fill="#fff" stroke="#008000" stroke-width="3.4"/><rect x="754.3" y="310.5" width="8.2" height="8.2" fill="#fff" stroke="#008000" stroke-width="3.4"/><rect x="761.8" y="310.2" width="8.2" height="8.2" fill="#fff" stroke="#008000" stroke-width="3.4"/><rect x="769.2" y="309.0" width="8.2" height="8.2" fill="#fff" stroke="#008000" stroke-width="3.4"/><rect x="776.7" y="311.0" width="8.2" height="8.2" fill="#fff" stroke="#008000" stroke-width="3.4"/><rect x="784.2" y="311.3" width="8.2" height="8.2" fill="#fff" stroke="#008000" stroke-width="3.4"/><rect x="791.6" y="309.4" width="8.2" height="8.2" fill="#fff" stroke="#008000" stroke-width="3.4"/><rect x="799.1" y="307.5" width="8.2" height="8.2" fill="#fff" stroke="#008000" stroke-width="3.4"/><rect x="806.6" y="308.5" width="8.2" height="8.2" fill="#fff" stroke="#008000" stroke-width="3.4"/><rect x="814.0" y="309.7" width="8.2" height="8.2" fill="#fff" stroke="#008000" stroke-width="3.4"/><rect x="821.5" y="311.3" width="8.2" height="8.2" fill="#fff" stroke="#008000" stroke-width="3.4"/><rect x="829.0" y="311.5" width="8.2" height="8.2" fill="#fff" stroke="#008000" stroke-width="3.4"/><rect x="836.4" y="307.7" width="8.2" height="8.2" fill="#fff" stroke="#008000" stroke-width="3.4"/><rect x="843.9" y="306.5" width="8.2" height="8.2" fill="#fff" stroke="#008000" stroke-width="3.4"/><rect x="851.4" y="310.4" width="8.2" height="8.2" fill="#fff" stroke="#008000" stroke-width="3.4"/><rect x="858.9" y="310.7" width="8.2" height="8.2" fill="#fff" stroke="#008000" stroke-width="3.4"/><rect x="866.3" y="308.2" width="8.2" height="8.2" fill="#fff" stroke="#008000" stroke-width="3.4"/><rect x="873.8" y="309.6" width="8.2" height="8.2" fill="#fff" stroke="#008000" stroke-width="3.4"/><rect x="881.3" y="310.0" width="8.2" height="8.2" fill="#fff" stroke="#008000" stroke-width="3.4"/><rect x="888.7" y="308.5" width="8.2" height="8.2" fill="#fff" stroke="#008000" stroke-width="3.4"/><rect x="896.2" y="309.6" width="8.2" height="8.2" fill="#fff" stroke="#008000" stroke-width="3.4"/><rect x="903.7" y="304.8" width="8.2" height="8.2" fill="#fff" stroke="#008000" stroke-width="3.4"/><rect x="911.1" y="305.5" width="8.2" height="8.2" fill="#fff" stroke="#008000" stroke-width="3.4"/><rect x="918.6" y="305.0" width="8.2" height="8.2" fill="#fff" stroke="#008000" stroke-width="3.4"/><rect x="926.1" y="303.6" width="8.2" height="8.2" fill="#fff" stroke="#008000" stroke-width="3.4"/><rect x="933.5" y="307.0" width="8.2" height="8.2" fill="#fff" stroke="#008000" stroke-width="3.4"/><rect x="941.0" y="302.1" width="8.2" height="8.2" fill="#fff" stroke="#008000" stroke-width="3.4"/><polyline points="205.8,351.3 213.2,362.0 220.7,366.0 228.2,377.0 235.6,387.6 243.1,395.0 250.6,403.0 258.0,407.0 265.5,410.4 273.0,413.8 280.4,416.7 287.9,419.0 295.4,421.2 302.9,423.1 310.3,424.9 317.8,426.8 325.3,428.8 332.7,430.6 340.2,432.1 347.7,433.6 355.1,435.1 362.6,436.5 370.1,438.0 377.5,439.1 385.0,439.8 392.5,440.6 399.9,441.4 407.4,442.1 414.9,442.6 422.3,442.9 429.8,443.3 437.3,443.6 444.7,443.9 452.2,444.3 459.7,444.7 467.1,445.1 474.6,445.6 482.1,446.3 489.6,447.0 497.0,447.7 504.5,448.0 512.0,448.1 519.4,448.1 526.9,448.1 534.4,448.2 541.8,448.2 549.3,448.2 556.8,448.3 564.2,448.3 571.7,448.4 579.2,448.4 586.6,448.4 594.1,448.5 601.6,448.5 609.0,448.4 616.5,448.3 624.0,448.2 631.4,448.1 638.9,448.0 646.4,447.4 653.8,446.6 661.3,446.0 668.8,446.0 676.3,446.0 683.7,446.0 691.2,446.0 698.7,446.0 706.1,446.0 713.6,446.0 721.1,446.0 728.5,446.0 736.0,446.0 743.5,446.0 750.9,446.0 758.4,446.0 765.9,446.0 773.3,446.1 780.8,446.2 788.3,446.3 795.7,446.4 803.2,445.1 810.7,443.0 818.1,443.0 825.6,443.0 833.1,443.0 840.5,443.0 848.0,443.0 855.5,443.0 863.0,443.0 870.4,443.0 877.9,443.0 885.4,443.0 892.8,443.0 900.3,442.9 907.8,441.5 915.2,441.5 922.7,441.5 930.2,441.5 937.6,441.5 945.1,441.5" fill="none" stroke="#00ff00" stroke-width="2.2" stroke-linejoin="round"/><rect x="201.7" y="347.2" width="8.2" height="8.2" fill="#fff" stroke="#00ff00" stroke-width="3.4"/><rect x="209.1" y="357.9" width="8.2" height="8.2" fill="#fff" stroke="#00ff00" stroke-width="3.4"/><rect x="216.6" y="361.9" width="8.2" height="8.2" fill="#fff" stroke="#00ff00" stroke-width="3.4"/><rect x="224.1" y="372.9" width="8.2" height="8.2" fill="#fff" stroke="#00ff00" stroke-width="3.4"/><rect x="231.5" y="383.5" width="8.2" height="8.2" fill="#fff" stroke="#00ff00" stroke-width="3.4"/><rect x="239.0" y="390.9" width="8.2" height="8.2" fill="#fff" stroke="#00ff00" stroke-width="3.4"/><rect x="246.5" y="398.9" width="8.2" height="8.2" fill="#fff" stroke="#00ff00" stroke-width="3.4"/><rect x="253.9" y="402.9" width="8.2" height="8.2" fill="#fff" stroke="#00ff00" stroke-width="3.4"/><rect x="261.4" y="406.3" width="8.2" height="8.2" fill="#fff" stroke="#00ff00" stroke-width="3.4"/><rect x="268.9" y="409.7" width="8.2" height="8.2" fill="#fff" stroke="#00ff00" stroke-width="3.4"/><rect x="276.3" y="412.6" width="8.2" height="8.2" fill="#fff" stroke="#00ff00" stroke-width="3.4"/><rect x="283.8" y="414.9" width="8.2" height="8.2" fill="#fff" stroke="#00ff00" stroke-width="3.4"/><rect x="291.3" y="417.1" width="8.2" height="8.2" fill="#fff" stroke="#00ff00" stroke-width="3.4"/><rect x="298.8" y="419.0" width="8.2" height="8.2" fill="#fff" stroke="#00ff00" stroke-width="3.4"/><rect x="306.2" y="420.8" width="8.2" height="8.2" fill="#fff" stroke="#00ff00" stroke-width="3.4"/><rect x="313.7" y="422.7" width="8.2" height="8.2" fill="#fff" stroke="#00ff00" stroke-width="3.4"/><rect x="321.2" y="424.7" width="8.2" height="8.2" fill="#fff" stroke="#00ff00" stroke-width="3.4"/><rect x="328.6" y="426.5" width="8.2" height="8.2" fill="#fff" stroke="#00ff00" stroke-width="3.4"/><rect x="336.1" y="428.0" width="8.2" height="8.2" fill="#fff" stroke="#00ff00" stroke-width="3.4"/><rect x="343.6" y="429.5" width="8.2" height="8.2" fill="#fff" stroke="#00ff00" stroke-width="3.4"/><rect x="351.0" y="431.0" width="8.2" height="8.2" fill="#fff" stroke="#00ff00" stroke-width="3.4"/><rect x="358.5" y="432.4" width="8.2" height="8.2" fill="#fff" stroke="#00ff00" stroke-width="3.4"/><rect x="366.0" y="433.9" width="8.2" height="8.2" fill="#fff" stroke="#00ff00" stroke-width="3.4"/><rect x="373.4" y="435.0" width="8.2" height="8.2" fill="#fff" stroke="#00ff00" stroke-width="3.4"/><rect x="380.9" y="435.7" width="8.2" height="8.2" fill="#fff" stroke="#00ff00" stroke-width="3.4"/><rect x="388.4" y="436.5" width="8.2" height="8.2" fill="#fff" stroke="#00ff00" stroke-width="3.4"/><rect x="395.8" y="437.3" width="8.2" height="8.2" fill="#fff" stroke="#00ff00" stroke-width="3.4"/><rect x="403.3" y="438.0" width="8.2" height="8.2" fill="#fff" stroke="#00ff00" stroke-width="3.4"/><rect x="410.8" y="438.5" width="8.2" height="8.2" fill="#fff" stroke="#00ff00" stroke-width="3.4"/><rect x="418.2" y="438.8" width="8.2" height="8.2" fill="#fff" stroke="#00ff00" stroke-width="3.4"/><rect x="425.7" y="439.2" width="8.2" height="8.2" fill="#fff" stroke="#00ff00" stroke-width="3.4"/><rect x="433.2" y="439.5" width="8.2" height="8.2" fill="#fff" stroke="#00ff00" stroke-width="3.4"/><rect x="440.6" y="439.8" width="8.2" height="8.2" fill="#fff" stroke="#00ff00" stroke-width="3.4"/><rect x="448.1" y="440.2" width="8.2" height="8.2" fill="#fff" stroke="#00ff00" stroke-width="3.4"/><rect x="455.6" y="440.6" width="8.2" height="8.2" fill="#fff" stroke="#00ff00" stroke-width="3.4"/><rect x="463.0" y="441.0" width="8.2" height="8.2" fill="#fff" stroke="#00ff00" stroke-width="3.4"/><rect x="470.5" y="441.5" width="8.2" height="8.2" fill="#fff" stroke="#00ff00" stroke-width="3.4"/><rect x="478.0" y="442.2" width="8.2" height="8.2" fill="#fff" stroke="#00ff00" stroke-width="3.4"/><rect x="485.5" y="442.9" width="8.2" height="8.2" fill="#fff" stroke="#00ff00" stroke-width="3.4"/><rect x="492.9" y="443.6" width="8.2" height="8.2" fill="#fff" stroke="#00ff00" stroke-width="3.4"/><rect x="500.4" y="443.9" width="8.2" height="8.2" fill="#fff" stroke="#00ff00" stroke-width="3.4"/><rect x="507.9" y="444.0" width="8.2" height="8.2" fill="#fff" stroke="#00ff00" stroke-width="3.4"/><rect x="515.3" y="444.0" width="8.2" height="8.2" fill="#fff" stroke="#00ff00" stroke-width="3.4"/><rect x="522.8" y="444.0" width="8.2" height="8.2" fill="#fff" stroke="#00ff00" stroke-width="3.4"/><rect x="530.3" y="444.1" width="8.2" height="8.2" fill="#fff" stroke="#00ff00" stroke-width="3.4"/><rect x="537.7" y="444.1" width="8.2" height="8.2" fill="#fff" stroke="#00ff00" stroke-width="3.4"/><rect x="545.2" y="444.1" width="8.2" height="8.2" fill="#fff" stroke="#00ff00" stroke-width="3.4"/><rect x="552.7" y="444.2" width="8.2" height="8.2" fill="#fff" stroke="#00ff00" stroke-width="3.4"/><rect x="560.1" y="444.2" width="8.2" height="8.2" fill="#fff" stroke="#00ff00" stroke-width="3.4"/><rect x="567.6" y="444.3" width="8.2" height="8.2" fill="#fff" stroke="#00ff00" stroke-width="3.4"/><rect x="575.1" y="444.3" width="8.2" height="8.2" fill="#fff" stroke="#00ff00" stroke-width="3.4"/><rect x="582.5" y="444.3" width="8.2" height="8.2" fill="#fff" stroke="#00ff00" stroke-width="3.4"/><rect x="590.0" y="444.4" width="8.2" height="8.2" fill="#fff" stroke="#00ff00" stroke-width="3.4"/><rect x="597.5" y="444.4" width="8.2" height="8.2" fill="#fff" stroke="#00ff00" stroke-width="3.4"/><rect x="604.9" y="444.3" width="8.2" height="8.2" fill="#fff" stroke="#00ff00" stroke-width="3.4"/><rect x="612.4" y="444.2" width="8.2" height="8.2" fill="#fff" stroke="#00ff00" stroke-width="3.4"/><rect x="619.9" y="444.1" width="8.2" height="8.2" fill="#fff" stroke="#00ff00" stroke-width="3.4"/><rect x="627.3" y="444.0" width="8.2" height="8.2" fill="#fff" stroke="#00ff00" stroke-width="3.4"/><rect x="634.8" y="443.9" width="8.2" height="8.2" fill="#fff" stroke="#00ff00" stroke-width="3.4"/><rect x="642.3" y="443.3" width="8.2" height="8.2" fill="#fff" stroke="#00ff00" stroke-width="3.4"/><rect x="649.7" y="442.5" width="8.2" height="8.2" fill="#fff" stroke="#00ff00" stroke-width="3.4"/><rect x="657.2" y="441.9" width="8.2" height="8.2" fill="#fff" stroke="#00ff00" stroke-width="3.4"/><rect x="664.7" y="441.9" width="8.2" height="8.2" fill="#fff" stroke="#00ff00" stroke-width="3.4"/><rect x="672.2" y="441.9" width="8.2" height="8.2" fill="#fff" stroke="#00ff00" stroke-width="3.4"/><rect x="679.6" y="441.9" width="8.2" height="8.2" fill="#fff" stroke="#00ff00" stroke-width="3.4"/><rect x="687.1" y="441.9" width="8.2" height="8.2" fill="#fff" stroke="#00ff00" stroke-width="3.4"/><rect x="694.6" y="441.9" width="8.2" height="8.2" fill="#fff" stroke="#00ff00" stroke-width="3.4"/><rect x="702.0" y="441.9" width="8.2" height="8.2" fill="#fff" stroke="#00ff00" stroke-width="3.4"/><rect x="709.5" y="441.9" width="8.2" height="8.2" fill="#fff" stroke="#00ff00" stroke-width="3.4"/><rect x="717.0" y="441.9" width="8.2" height="8.2" fill="#fff" stroke="#00ff00" stroke-width="3.4"/><rect x="724.4" y="441.9" width="8.2" height="8.2" fill="#fff" stroke="#00ff00" stroke-width="3.4"/><rect x="731.9" y="441.9" width="8.2" height="8.2" fill="#fff" stroke="#00ff00" stroke-width="3.4"/><rect x="739.4" y="441.9" width="8.2" height="8.2" fill="#fff" stroke="#00ff00" stroke-width="3.4"/><rect x="746.8" y="441.9" width="8.2" height="8.2" fill="#fff" stroke="#00ff00" stroke-width="3.4"/><rect x="754.3" y="441.9" width="8.2" height="8.2" fill="#fff" stroke="#00ff00" stroke-width="3.4"/><rect x="761.8" y="441.9" width="8.2" height="8.2" fill="#fff" stroke="#00ff00" stroke-width="3.4"/><rect x="769.2" y="442.0" width="8.2" height="8.2" fill="#fff" stroke="#00ff00" stroke-width="3.4"/><rect x="776.7" y="442.1" width="8.2" height="8.2" fill="#fff" stroke="#00ff00" stroke-width="3.4"/><rect x="784.2" y="442.2" width="8.2" height="8.2" fill="#fff" stroke="#00ff00" stroke-width="3.4"/><rect x="791.6" y="442.3" width="8.2" height="8.2" fill="#fff" stroke="#00ff00" stroke-width="3.4"/><rect x="799.1" y="441.0" width="8.2" height="8.2" fill="#fff" stroke="#00ff00" stroke-width="3.4"/><rect x="806.6" y="438.9" width="8.2" height="8.2" fill="#fff" stroke="#00ff00" stroke-width="3.4"/><rect x="814.0" y="438.9" width="8.2" height="8.2" fill="#fff" stroke="#00ff00" stroke-width="3.4"/><rect x="821.5" y="438.9" width="8.2" height="8.2" fill="#fff" stroke="#00ff00" stroke-width="3.4"/><rect x="829.0" y="438.9" width="8.2" height="8.2" fill="#fff" stroke="#00ff00" stroke-width="3.4"/><rect x="836.4" y="438.9" width="8.2" height="8.2" fill="#fff" stroke="#00ff00" stroke-width="3.4"/><rect x="843.9" y="438.9" width="8.2" height="8.2" fill="#fff" stroke="#00ff00" stroke-width="3.4"/><rect x="851.4" y="438.9" width="8.2" height="8.2" fill="#fff" stroke="#00ff00" stroke-width="3.4"/><rect x="858.9" y="438.9" width="8.2" height="8.2" fill="#fff" stroke="#00ff00" stroke-width="3.4"/><rect x="866.3" y="438.9" width="8.2" height="8.2" fill="#fff" stroke="#00ff00" stroke-width="3.4"/><rect x="873.8" y="438.9" width="8.2" height="8.2" fill="#fff" stroke="#00ff00" stroke-width="3.4"/><rect x="881.3" y="438.9" width="8.2" height="8.2" fill="#fff" stroke="#00ff00" stroke-width="3.4"/><rect x="888.7" y="438.9" width="8.2" height="8.2" fill="#fff" stroke="#00ff00" stroke-width="3.4"/><rect x="896.2" y="438.8" width="8.2" height="8.2" fill="#fff" stroke="#00ff00" stroke-width="3.4"/><rect x="903.7" y="437.4" width="8.2" height="8.2" fill="#fff" stroke="#00ff00" stroke-width="3.4"/><rect x="911.1" y="437.4" width="8.2" height="8.2" fill="#fff" stroke="#00ff00" stroke-width="3.4"/><rect x="918.6" y="437.4" width="8.2" height="8.2" fill="#fff" stroke="#00ff00" stroke-width="3.4"/><rect x="926.1" y="437.4" width="8.2" height="8.2" fill="#fff" stroke="#00ff00" stroke-width="3.4"/><rect x="933.5" y="437.4" width="8.2" height="8.2" fill="#fff" stroke="#00ff00" stroke-width="3.4"/><rect x="941.0" y="437.4" width="8.2" height="8.2" fill="#fff" stroke="#00ff00" stroke-width="3.4"/><polyline points="205.8,269.0 213.2,287.0 220.7,298.3 228.2,320.9 235.6,333.8 243.1,342.0 250.6,349.0 258.0,364.3 265.5,365.5 273.0,365.1 280.4,360.3 287.9,356.6 295.4,354.3 302.9,350.5 310.3,359.4 317.8,360.2 325.3,364.0 332.7,367.2 340.2,365.7 347.7,365.0 355.1,360.2 362.6,360.4 370.1,361.2 377.5,362.1 385.0,361.0 392.5,353.9 399.9,349.5 407.4,348.2 414.9,349.5 422.3,346.7 429.8,349.4 437.3,353.7 444.7,350.8 452.2,354.8 459.7,357.3 467.1,353.6 474.6,355.7 482.1,359.7 489.6,357.0 497.0,358.7 504.5,358.5 512.0,349.8 519.4,344.6 526.9,340.5 534.4,339.7 541.8,336.4 549.3,334.0 556.8,330.8 564.2,331.1 571.7,329.9 579.2,327.2 586.6,328.6 594.1,327.4 601.6,329.0 609.0,329.7 616.5,331.0 624.0,325.4 631.4,324.1 638.9,323.6 646.4,321.9 653.8,324.5 661.3,319.8 668.8,321.6 676.3,320.6 683.7,322.1 691.2,323.5 698.7,322.2 706.1,321.7 713.6,321.3 721.1,322.5 728.5,324.4 736.0,322.2 743.5,321.8 750.9,321.9 758.4,319.2 765.9,315.2 773.3,316.0 780.8,316.9 788.3,314.5 795.7,317.7 803.2,317.3 810.7,316.7 818.1,314.7 825.6,316.5 833.1,312.8 840.5,313.6 848.0,314.3 855.5,315.6 863.0,314.1 870.4,312.2 877.9,313.1 885.4,312.8 892.8,312.5 900.3,311.6 907.8,312.4 915.2,312.0 922.7,313.1 930.2,312.7 937.6,310.7 945.1,309.8" fill="none" stroke="#ff00ff" stroke-width="2.2" stroke-linejoin="round"/><circle cx="205.8" cy="269.0" r="5.1" fill="#fff" stroke="#ff00ff" stroke-width="3.6"/><circle cx="213.2" cy="287.0" r="5.1" fill="#fff" stroke="#ff00ff" stroke-width="3.6"/><circle cx="220.7" cy="298.3" r="5.1" fill="#fff" stroke="#ff00ff" stroke-width="3.6"/><circle cx="228.2" cy="320.9" r="5.1" fill="#fff" stroke="#ff00ff" stroke-width="3.6"/><circle cx="235.6" cy="333.8" r="5.1" fill="#fff" stroke="#ff00ff" stroke-width="3.6"/><circle cx="243.1" cy="342.0" r="5.1" fill="#fff" stroke="#ff00ff" stroke-width="3.6"/><circle cx="250.6" cy="349.0" r="5.1" fill="#fff" stroke="#ff00ff" stroke-width="3.6"/><circle cx="258.0" cy="364.3" r="5.1" fill="#fff" stroke="#ff00ff" stroke-width="3.6"/><circle cx="265.5" cy="365.5" r="5.1" fill="#fff" stroke="#ff00ff" stroke-width="3.6"/><circle cx="273.0" cy="365.1" r="5.1" fill="#fff" stroke="#ff00ff" stroke-width="3.6"/><circle cx="280.4" cy="360.3" r="5.1" fill="#fff" stroke="#ff00ff" stroke-width="3.6"/><circle cx="287.9" cy="356.6" r="5.1" fill="#fff" stroke="#ff00ff" stroke-width="3.6"/><circle cx="295.4" cy="354.3" r="5.1" fill="#fff" stroke="#ff00ff" stroke-width="3.6"/><circle cx="302.9" cy="350.5" r="5.1" fill="#fff" stroke="#ff00ff" stroke-width="3.6"/><circle cx="310.3" cy="359.4" r="5.1" fill="#fff" stroke="#ff00ff" stroke-width="3.6"/><circle cx="317.8" cy="360.2" r="5.1" fill="#fff" stroke="#ff00ff" stroke-width="3.6"/><circle cx="325.3" cy="364.0" r="5.1" fill="#fff" stroke="#ff00ff" stroke-width="3.6"/><circle cx="332.7" cy="367.2" r="5.1" fill="#fff" stroke="#ff00ff" stroke-width="3.6"/><circle cx="340.2" cy="365.7" r="5.1" fill="#fff" stroke="#ff00ff" stroke-width="3.6"/><circle cx="347.7" cy="365.0" r="5.1" fill="#fff" stroke="#ff00ff" stroke-width="3.6"/><circle cx="355.1" cy="360.2" r="5.1" fill="#fff" stroke="#ff00ff" stroke-width="3.6"/><circle cx="362.6" cy="360.4" r="5.1" fill="#fff" stroke="#ff00ff" stroke-width="3.6"/><circle cx="370.1" cy="361.2" r="5.1" fill="#fff" stroke="#ff00ff" stroke-width="3.6"/><circle cx="377.5" cy="362.1" r="5.1" fill="#fff" stroke="#ff00ff" stroke-width="3.6"/><circle cx="385.0" cy="361.0" r="5.1" fill="#fff" stroke="#ff00ff" stroke-width="3.6"/><circle cx="392.5" cy="353.9" r="5.1" fill="#fff" stroke="#ff00ff" stroke-width="3.6"/><circle cx="399.9" cy="349.5" r="5.1" fill="#fff" stroke="#ff00ff" stroke-width="3.6"/><circle cx="407.4" cy="348.2" r="5.1" fill="#fff" stroke="#ff00ff" stroke-width="3.6"/><circle cx="414.9" cy="349.5" r="5.1" fill="#fff" stroke="#ff00ff" stroke-width="3.6"/><circle cx="422.3" cy="346.7" r="5.1" fill="#fff" stroke="#ff00ff" stroke-width="3.6"/><circle cx="429.8" cy="349.4" r="5.1" fill="#fff" stroke="#ff00ff" stroke-width="3.6"/><circle cx="437.3" cy="353.7" r="5.1" fill="#fff" stroke="#ff00ff" stroke-width="3.6"/><circle cx="444.7" cy="350.8" r="5.1" fill="#fff" stroke="#ff00ff" stroke-width="3.6"/><circle cx="452.2" cy="354.8" r="5.1" fill="#fff" stroke="#ff00ff" stroke-width="3.6"/><circle cx="459.7" cy="357.3" r="5.1" fill="#fff" stroke="#ff00ff" stroke-width="3.6"/><circle cx="467.1" cy="353.6" r="5.1" fill="#fff" stroke="#ff00ff" stroke-width="3.6"/><circle cx="474.6" cy="355.7" r="5.1" fill="#fff" stroke="#ff00ff" stroke-width="3.6"/><circle cx="482.1" cy="359.7" r="5.1" fill="#fff" stroke="#ff00ff" stroke-width="3.6"/><circle cx="489.6" cy="357.0" r="5.1" fill="#fff" stroke="#ff00ff" stroke-width="3.6"/><circle cx="497.0" cy="358.7" r="5.1" fill="#fff" stroke="#ff00ff" stroke-width="3.6"/><circle cx="504.5" cy="358.5" r="5.1" fill="#fff" stroke="#ff00ff" stroke-width="3.6"/><circle cx="512.0" cy="349.8" r="5.1" fill="#fff" stroke="#ff00ff" stroke-width="3.6"/><circle cx="519.4" cy="344.6" r="5.1" fill="#fff" stroke="#ff00ff" stroke-width="3.6"/><circle cx="526.9" cy="340.5" r="5.1" fill="#fff" stroke="#ff00ff" stroke-width="3.6"/><circle cx="534.4" cy="339.7" r="5.1" fill="#fff" stroke="#ff00ff" stroke-width="3.6"/><circle cx="541.8" cy="336.4" r="5.1" fill="#fff" stroke="#ff00ff" stroke-width="3.6"/><circle cx="549.3" cy="334.0" r="5.1" fill="#fff" stroke="#ff00ff" stroke-width="3.6"/><circle cx="556.8" cy="330.8" r="5.1" fill="#fff" stroke="#ff00ff" stroke-width="3.6"/><circle cx="564.2" cy="331.1" r="5.1" fill="#fff" stroke="#ff00ff" stroke-width="3.6"/><circle cx="571.7" cy="329.9" r="5.1" fill="#fff" stroke="#ff00ff" stroke-width="3.6"/><circle cx="579.2" cy="327.2" r="5.1" fill="#fff" stroke="#ff00ff" stroke-width="3.6"/><circle cx="586.6" cy="328.6" r="5.1" fill="#fff" stroke="#ff00ff" stroke-width="3.6"/><circle cx="594.1" cy="327.4" r="5.1" fill="#fff" stroke="#ff00ff" stroke-width="3.6"/><circle cx="601.6" cy="329.0" r="5.1" fill="#fff" stroke="#ff00ff" stroke-width="3.6"/><circle cx="609.0" cy="329.7" r="5.1" fill="#fff" stroke="#ff00ff" stroke-width="3.6"/><circle cx="616.5" cy="331.0" r="5.1" fill="#fff" stroke="#ff00ff" stroke-width="3.6"/><circle cx="624.0" cy="325.4" r="5.1" fill="#fff" stroke="#ff00ff" stroke-width="3.6"/><circle cx="631.4" cy="324.1" r="5.1" fill="#fff" stroke="#ff00ff" stroke-width="3.6"/><circle cx="638.9" cy="323.6" r="5.1" fill="#fff" stroke="#ff00ff" stroke-width="3.6"/><circle cx="646.4" cy="321.9" r="5.1" fill="#fff" stroke="#ff00ff" stroke-width="3.6"/><circle cx="653.8" cy="324.5" r="5.1" fill="#fff" stroke="#ff00ff" stroke-width="3.6"/><circle cx="661.3" cy="319.8" r="5.1" fill="#fff" stroke="#ff00ff" stroke-width="3.6"/><circle cx="668.8" cy="321.6" r="5.1" fill="#fff" stroke="#ff00ff" stroke-width="3.6"/><circle cx="676.3" cy="320.6" r="5.1" fill="#fff" stroke="#ff00ff" stroke-width="3.6"/><circle cx="683.7" cy="322.1" r="5.1" fill="#fff" stroke="#ff00ff" stroke-width="3.6"/><circle cx="691.2" cy="323.5" r="5.1" fill="#fff" stroke="#ff00ff" stroke-width="3.6"/><circle cx="698.7" cy="322.2" r="5.1" fill="#fff" stroke="#ff00ff" stroke-width="3.6"/><circle cx="706.1" cy="321.7" r="5.1" fill="#fff" stroke="#ff00ff" stroke-width="3.6"/><circle cx="713.6" cy="321.3" r="5.1" fill="#fff" stroke="#ff00ff" stroke-width="3.6"/><circle cx="721.1" cy="322.5" r="5.1" fill="#fff" stroke="#ff00ff" stroke-width="3.6"/><circle cx="728.5" cy="324.4" r="5.1" fill="#fff" stroke="#ff00ff" stroke-width="3.6"/><circle cx="736.0" cy="322.2" r="5.1" fill="#fff" stroke="#ff00ff" stroke-width="3.6"/><circle cx="743.5" cy="321.8" r="5.1" fill="#fff" stroke="#ff00ff" stroke-width="3.6"/><circle cx="750.9" cy="321.9" r="5.1" fill="#fff" stroke="#ff00ff" stroke-width="3.6"/><circle cx="758.4" cy="319.2" r="5.1" fill="#fff" stroke="#ff00ff" stroke-width="3.6"/><circle cx="765.9" cy="315.2" r="5.1" fill="#fff" stroke="#ff00ff" stroke-width="3.6"/><circle cx="773.3" cy="316.0" r="5.1" fill="#fff" stroke="#ff00ff" stroke-width="3.6"/><circle cx="780.8" cy="316.9" r="5.1" fill="#fff" stroke="#ff00ff" stroke-width="3.6"/><circle cx="788.3" cy="314.5" r="5.1" fill="#fff" stroke="#ff00ff" stroke-width="3.6"/><circle cx="795.7" cy="317.7" r="5.1" fill="#fff" stroke="#ff00ff" stroke-width="3.6"/><circle cx="803.2" cy="317.3" r="5.1" fill="#fff" stroke="#ff00ff" stroke-width="3.6"/><circle cx="810.7" cy="316.7" r="5.1" fill="#fff" stroke="#ff00ff" stroke-width="3.6"/><circle cx="818.1" cy="314.7" r="5.1" fill="#fff" stroke="#ff00ff" stroke-width="3.6"/><circle cx="825.6" cy="316.5" r="5.1" fill="#fff" stroke="#ff00ff" stroke-width="3.6"/><circle cx="833.1" cy="312.8" r="5.1" fill="#fff" stroke="#ff00ff" stroke-width="3.6"/><circle cx="840.5" cy="313.6" r="5.1" fill="#fff" stroke="#ff00ff" stroke-width="3.6"/><circle cx="848.0" cy="314.3" r="5.1" fill="#fff" stroke="#ff00ff" stroke-width="3.6"/><circle cx="855.5" cy="315.6" r="5.1" fill="#fff" stroke="#ff00ff" stroke-width="3.6"/><circle cx="863.0" cy="314.1" r="5.1" fill="#fff" stroke="#ff00ff" stroke-width="3.6"/><circle cx="870.4" cy="312.2" r="5.1" fill="#fff" stroke="#ff00ff" stroke-width="3.6"/><circle cx="877.9" cy="313.1" r="5.1" fill="#fff" stroke="#ff00ff" stroke-width="3.6"/><circle cx="885.4" cy="312.8" r="5.1" fill="#fff" stroke="#ff00ff" stroke-width="3.6"/><circle cx="892.8" cy="312.5" r="5.1" fill="#fff" stroke="#ff00ff" stroke-width="3.6"/><circle cx="900.3" cy="311.6" r="5.1" fill="#fff" stroke="#ff00ff" stroke-width="3.6"/><circle cx="907.8" cy="312.4" r="5.1" fill="#fff" stroke="#ff00ff" stroke-width="3.6"/><circle cx="915.2" cy="312.0" r="5.1" fill="#fff" stroke="#ff00ff" stroke-width="3.6"/><circle cx="922.7" cy="313.1" r="5.1" fill="#fff" stroke="#ff00ff" stroke-width="3.6"/><circle cx="930.2" cy="312.7" r="5.1" fill="#fff" stroke="#ff00ff" stroke-width="3.6"/><circle cx="937.6" cy="310.7" r="5.1" fill="#fff" stroke="#ff00ff" stroke-width="3.6"/><circle cx="945.1" cy="309.8" r="5.1" fill="#fff" stroke="#ff00ff" stroke-width="3.6"/><polyline points="213.2,321.1 220.7,345.4 228.2,359.5 235.6,372.1 243.1,381.7 250.6,390.0 258.0,395.9 265.5,400.4 273.0,404.3 280.4,407.9 287.9,411.1 295.4,414.2 302.9,417.1 310.3,419.8 317.8,422.3 325.3,424.6 332.7,426.5 340.2,427.8 347.7,429.4 355.1,430.9 362.6,432.5 370.1,434.0 377.5,435.1 385.0,435.8 392.5,436.6 399.9,437.4 407.4,438.1 414.9,438.6 422.3,438.9 429.8,439.3 437.3,439.6 444.7,440.0 452.2,440.3 459.7,440.7 467.1,441.1 474.6,441.6 482.1,442.3 489.6,443.0 497.0,443.7 504.5,444.0 512.0,444.1 519.4,444.1 526.9,444.1 534.4,444.2 541.8,444.2 549.3,444.2 556.8,444.3 564.2,444.3 571.7,444.4 579.2,444.4 586.6,444.4 594.1,444.5 601.6,444.5 609.0,444.7 616.5,444.8 624.0,445.0 631.4,445.1 638.9,445.3 646.4,445.4 653.8,444.9 661.3,444.0 668.8,444.0 676.3,444.0 683.7,444.0 691.2,444.0 698.7,444.0 706.1,444.0 713.6,444.0 721.1,444.0 728.5,444.0 736.0,444.0 743.5,444.0 750.9,444.0 758.4,444.0 765.9,444.0 773.3,444.1 780.8,444.2 788.3,444.3 795.7,444.4 803.2,443.2 810.7,441.2 818.1,441.2 825.6,441.2 833.1,441.2 840.5,441.2 848.0,441.2 855.5,441.2 863.0,441.2 870.4,441.2 877.9,441.2 885.4,441.2 892.8,441.2 900.3,441.1 907.8,439.8 915.2,439.8 922.7,439.8 930.2,439.8 937.6,439.8 945.1,439.8" fill="none" stroke="#0000ff" stroke-width="2.5" stroke-linejoin="round"/><circle cx="213.2" cy="321.1" r="5.1" fill="#fff" stroke="#0000ff" stroke-width="3.6"/><circle cx="220.7" cy="345.4" r="5.1" fill="#fff" stroke="#0000ff" stroke-width="3.6"/><circle cx="228.2" cy="359.5" r="5.1" fill="#fff" stroke="#0000ff" stroke-width="3.6"/><circle cx="235.6" cy="372.1" r="5.1" fill="#fff" stroke="#0000ff" stroke-width="3.6"/><circle cx="243.1" cy="381.7" r="5.1" fill="#fff" stroke="#0000ff" stroke-width="3.6"/><circle cx="250.6" cy="390.0" r="5.1" fill="#fff" stroke="#0000ff" stroke-width="3.6"/><circle cx="258.0" cy="395.9" r="5.1" fill="#fff" stroke="#0000ff" stroke-width="3.6"/><circle cx="265.5" cy="400.4" r="5.1" fill="#fff" stroke="#0000ff" stroke-width="3.6"/><circle cx="273.0" cy="404.3" r="5.1" fill="#fff" stroke="#0000ff" stroke-width="3.6"/><circle cx="280.4" cy="407.9" r="5.1" fill="#fff" stroke="#0000ff" stroke-width="3.6"/><circle cx="287.9" cy="411.1" r="5.1" fill="#fff" stroke="#0000ff" stroke-width="3.6"/><circle cx="295.4" cy="414.2" r="5.1" fill="#fff" stroke="#0000ff" stroke-width="3.6"/><circle cx="302.9" cy="417.1" r="5.1" fill="#fff" stroke="#0000ff" stroke-width="3.6"/><circle cx="310.3" cy="419.8" r="5.1" fill="#fff" stroke="#0000ff" stroke-width="3.6"/><circle cx="317.8" cy="422.3" r="5.1" fill="#fff" stroke="#0000ff" stroke-width="3.6"/><circle cx="325.3" cy="424.6" r="5.1" fill="#fff" stroke="#0000ff" stroke-width="3.6"/><circle cx="332.7" cy="426.5" r="5.1" fill="#fff" stroke="#0000ff" stroke-width="3.6"/><circle cx="340.2" cy="427.8" r="5.1" fill="#fff" stroke="#0000ff" stroke-width="3.6"/><circle cx="347.7" cy="429.4" r="5.1" fill="#fff" stroke="#0000ff" stroke-width="3.6"/><circle cx="355.1" cy="430.9" r="5.1" fill="#fff" stroke="#0000ff" stroke-width="3.6"/><circle cx="362.6" cy="432.5" r="5.1" fill="#fff" stroke="#0000ff" stroke-width="3.6"/><circle cx="370.1" cy="434.0" r="5.1" fill="#fff" stroke="#0000ff" stroke-width="3.6"/><circle cx="377.5" cy="435.1" r="5.1" fill="#fff" stroke="#0000ff" stroke-width="3.6"/><circle cx="385.0" cy="435.8" r="5.1" fill="#fff" stroke="#0000ff" stroke-width="3.6"/><circle cx="392.5" cy="436.6" r="5.1" fill="#fff" stroke="#0000ff" stroke-width="3.6"/><circle cx="399.9" cy="437.4" r="5.1" fill="#fff" stroke="#0000ff" stroke-width="3.6"/><circle cx="407.4" cy="438.1" r="5.1" fill="#fff" stroke="#0000ff" stroke-width="3.6"/><circle cx="414.9" cy="438.6" r="5.1" fill="#fff" stroke="#0000ff" stroke-width="3.6"/><circle cx="422.3" cy="438.9" r="5.1" fill="#fff" stroke="#0000ff" stroke-width="3.6"/><circle cx="429.8" cy="439.3" r="5.1" fill="#fff" stroke="#0000ff" stroke-width="3.6"/><circle cx="437.3" cy="439.6" r="5.1" fill="#fff" stroke="#0000ff" stroke-width="3.6"/><circle cx="444.7" cy="440.0" r="5.1" fill="#fff" stroke="#0000ff" stroke-width="3.6"/><circle cx="452.2" cy="440.3" r="5.1" fill="#fff" stroke="#0000ff" stroke-width="3.6"/><circle cx="459.7" cy="440.7" r="5.1" fill="#fff" stroke="#0000ff" stroke-width="3.6"/><circle cx="467.1" cy="441.1" r="5.1" fill="#fff" stroke="#0000ff" stroke-width="3.6"/><circle cx="474.6" cy="441.6" r="5.1" fill="#fff" stroke="#0000ff" stroke-width="3.6"/><circle cx="482.1" cy="442.3" r="5.1" fill="#fff" stroke="#0000ff" stroke-width="3.6"/><circle cx="489.6" cy="443.0" r="5.1" fill="#fff" stroke="#0000ff" stroke-width="3.6"/><circle cx="497.0" cy="443.7" r="5.1" fill="#fff" stroke="#0000ff" stroke-width="3.6"/><circle cx="504.5" cy="444.0" r="5.1" fill="#fff" stroke="#0000ff" stroke-width="3.6"/><circle cx="512.0" cy="444.1" r="5.1" fill="#fff" stroke="#0000ff" stroke-width="3.6"/><circle cx="519.4" cy="444.1" r="5.1" fill="#fff" stroke="#0000ff" stroke-width="3.6"/><circle cx="526.9" cy="444.1" r="5.1" fill="#fff" stroke="#0000ff" stroke-width="3.6"/><circle cx="534.4" cy="444.2" r="5.1" fill="#fff" stroke="#0000ff" stroke-width="3.6"/><circle cx="541.8" cy="444.2" r="5.1" fill="#fff" stroke="#0000ff" stroke-width="3.6"/><circle cx="549.3" cy="444.2" r="5.1" fill="#fff" stroke="#0000ff" stroke-width="3.6"/><circle cx="556.8" cy="444.3" r="5.1" fill="#fff" stroke="#0000ff" stroke-width="3.6"/><circle cx="564.2" cy="444.3" r="5.1" fill="#fff" stroke="#0000ff" stroke-width="3.6"/><circle cx="571.7" cy="444.4" r="5.1" fill="#fff" stroke="#0000ff" stroke-width="3.6"/><circle cx="579.2" cy="444.4" r="5.1" fill="#fff" stroke="#0000ff" stroke-width="3.6"/><circle cx="586.6" cy="444.4" r="5.1" fill="#fff" stroke="#0000ff" stroke-width="3.6"/><circle cx="594.1" cy="444.5" r="5.1" fill="#fff" stroke="#0000ff" stroke-width="3.6"/><circle cx="601.6" cy="444.5" r="5.1" fill="#fff" stroke="#0000ff" stroke-width="3.6"/><circle cx="609.0" cy="444.7" r="5.1" fill="#fff" stroke="#0000ff" stroke-width="3.6"/><circle cx="616.5" cy="444.8" r="5.1" fill="#fff" stroke="#0000ff" stroke-width="3.6"/><circle cx="624.0" cy="445.0" r="5.1" fill="#fff" stroke="#0000ff" stroke-width="3.6"/><circle cx="631.4" cy="445.1" r="5.1" fill="#fff" stroke="#0000ff" stroke-width="3.6"/><circle cx="638.9" cy="445.3" r="5.1" fill="#fff" stroke="#0000ff" stroke-width="3.6"/><circle cx="646.4" cy="445.4" r="5.1" fill="#fff" stroke="#0000ff" stroke-width="3.6"/><circle cx="653.8" cy="444.9" r="5.1" fill="#fff" stroke="#0000ff" stroke-width="3.6"/><circle cx="661.3" cy="444.0" r="5.1" fill="#fff" stroke="#0000ff" stroke-width="3.6"/><circle cx="668.8" cy="444.0" r="5.1" fill="#fff" stroke="#0000ff" stroke-width="3.6"/><circle cx="676.3" cy="444.0" r="5.1" fill="#fff" stroke="#0000ff" stroke-width="3.6"/><circle cx="683.7" cy="444.0" r="5.1" fill="#fff" stroke="#0000ff" stroke-width="3.6"/><circle cx="691.2" cy="444.0" r="5.1" fill="#fff" stroke="#0000ff" stroke-width="3.6"/><circle cx="698.7" cy="444.0" r="5.1" fill="#fff" stroke="#0000ff" stroke-width="3.6"/><circle cx="706.1" cy="444.0" r="5.1" fill="#fff" stroke="#0000ff" stroke-width="3.6"/><circle cx="713.6" cy="444.0" r="5.1" fill="#fff" stroke="#0000ff" stroke-width="3.6"/><circle cx="721.1" cy="444.0" r="5.1" fill="#fff" stroke="#0000ff" stroke-width="3.6"/><circle cx="728.5" cy="444.0" r="5.1" fill="#fff" stroke="#0000ff" stroke-width="3.6"/><circle cx="736.0" cy="444.0" r="5.1" fill="#fff" stroke="#0000ff" stroke-width="3.6"/><circle cx="743.5" cy="444.0" r="5.1" fill="#fff" stroke="#0000ff" stroke-width="3.6"/><circle cx="750.9" cy="444.0" r="5.1" fill="#fff" stroke="#0000ff" stroke-width="3.6"/><circle cx="758.4" cy="444.0" r="5.1" fill="#fff" stroke="#0000ff" stroke-width="3.6"/><circle cx="765.9" cy="444.0" r="5.1" fill="#fff" stroke="#0000ff" stroke-width="3.6"/><circle cx="773.3" cy="444.1" r="5.1" fill="#fff" stroke="#0000ff" stroke-width="3.6"/><circle cx="780.8" cy="444.2" r="5.1" fill="#fff" stroke="#0000ff" stroke-width="3.6"/><circle cx="788.3" cy="444.3" r="5.1" fill="#fff" stroke="#0000ff" stroke-width="3.6"/><circle cx="795.7" cy="444.4" r="5.1" fill="#fff" stroke="#0000ff" stroke-width="3.6"/><circle cx="803.2" cy="443.2" r="5.1" fill="#fff" stroke="#0000ff" stroke-width="3.6"/><circle cx="810.7" cy="441.2" r="5.1" fill="#fff" stroke="#0000ff" stroke-width="3.6"/><circle cx="818.1" cy="441.2" r="5.1" fill="#fff" stroke="#0000ff" stroke-width="3.6"/><circle cx="825.6" cy="441.2" r="5.1" fill="#fff" stroke="#0000ff" stroke-width="3.6"/><circle cx="833.1" cy="441.2" r="5.1" fill="#fff" stroke="#0000ff" stroke-width="3.6"/><circle cx="840.5" cy="441.2" r="5.1" fill="#fff" stroke="#0000ff" stroke-width="3.6"/><circle cx="848.0" cy="441.2" r="5.1" fill="#fff" stroke="#0000ff" stroke-width="3.6"/><circle cx="855.5" cy="441.2" r="5.1" fill="#fff" stroke="#0000ff" stroke-width="3.6"/><circle cx="863.0" cy="441.2" r="5.1" fill="#fff" stroke="#0000ff" stroke-width="3.6"/><circle cx="870.4" cy="441.2" r="5.1" fill="#fff" stroke="#0000ff" stroke-width="3.6"/><circle cx="877.9" cy="441.2" r="5.1" fill="#fff" stroke="#0000ff" stroke-width="3.6"/><circle cx="885.4" cy="441.2" r="5.1" fill="#fff" stroke="#0000ff" stroke-width="3.6"/><circle cx="892.8" cy="441.2" r="5.1" fill="#fff" stroke="#0000ff" stroke-width="3.6"/><circle cx="900.3" cy="441.1" r="5.1" fill="#fff" stroke="#0000ff" stroke-width="3.6"/><circle cx="907.8" cy="439.8" r="5.1" fill="#fff" stroke="#0000ff" stroke-width="3.6"/><circle cx="915.2" cy="439.8" r="5.1" fill="#fff" stroke="#0000ff" stroke-width="3.6"/><circle cx="922.7" cy="439.8" r="5.1" fill="#fff" stroke="#0000ff" stroke-width="3.6"/><circle cx="930.2" cy="439.8" r="5.1" fill="#fff" stroke="#0000ff" stroke-width="3.6"/><circle cx="937.6" cy="439.8" r="5.1" fill="#fff" stroke="#0000ff" stroke-width="3.6"/><circle cx="945.1" cy="439.8" r="5.1" fill="#fff" stroke="#0000ff" stroke-width="3.6"/><polyline points="205.8,368.6 213.2,396.8 220.7,454.0 228.2,454.0 235.6,456.8 243.1,463.0 250.6,463.0 258.0,463.0 265.5,463.1 273.0,463.9 280.4,464.4 287.9,464.2 295.4,463.6 302.9,463.3 310.3,463.3 317.8,463.3 325.3,463.3 332.7,463.3 340.2,463.3 347.7,463.3 355.1,463.3 362.6,463.3 370.1,463.3 377.5,463.3 385.0,463.3 392.5,463.6 399.9,464.4 407.4,465.3 414.9,466.1 422.3,466.9 429.8,467.8 437.3,468.4 444.7,469.0 452.2,469.6 459.7,470.2 467.1,470.8 474.6,471.2 482.1,471.6 489.6,472.0 497.0,472.4 504.5,472.8 512.0,473.2 519.4,473.6 526.9,474.0 534.4,474.3 541.8,474.6 549.3,474.9 556.8,475.2 564.2,475.4 571.7,475.7 579.2,476.0 586.6,476.3 594.1,476.6 601.6,476.9 609.0,477.2 616.5,477.5 624.0,477.7 631.4,477.8 638.9,478.0 646.4,478.0 653.8,478.0 661.3,478.0 668.8,478.0 676.3,478.0 683.7,478.0 691.2,478.0 698.7,478.0 706.1,478.0 713.6,478.0 721.1,478.0 728.5,478.0 736.0,478.0 743.5,478.0 750.9,478.0 758.4,478.0 765.9,478.0 773.3,478.0 780.8,480.0 788.3,480.1 795.7,480.2 803.2,480.2 810.7,480.3 818.1,480.4 825.6,480.5 833.1,480.5 840.5,480.6 848.0,480.7 855.5,480.8 863.0,480.8 870.4,480.9 877.9,481.0 885.4,481.6 892.8,482.4 900.3,483.2 907.8,483.2 915.2,483.2 922.7,483.2 930.2,483.2 937.6,483.2 945.1,483.2" fill="none" stroke="#000000" stroke-width="3" stroke-linejoin="round"/><rect x="201.7" y="364.5" width="8.2" height="8.2" fill="#fff" stroke="#000000" stroke-width="3.4"/><rect x="209.1" y="392.7" width="8.2" height="8.2" fill="#fff" stroke="#000000" stroke-width="3.4"/><rect x="216.6" y="449.9" width="8.2" height="8.2" fill="#fff" stroke="#000000" stroke-width="3.4"/><rect x="224.1" y="449.9" width="8.2" height="8.2" fill="#fff" stroke="#000000" stroke-width="3.4"/><rect x="231.5" y="452.7" width="8.2" height="8.2" fill="#fff" stroke="#000000" stroke-width="3.4"/><rect x="239.0" y="458.9" width="8.2" height="8.2" fill="#fff" stroke="#000000" stroke-width="3.4"/><rect x="246.5" y="458.9" width="8.2" height="8.2" fill="#fff" stroke="#000000" stroke-width="3.4"/><rect x="253.9" y="458.9" width="8.2" height="8.2" fill="#fff" stroke="#000000" stroke-width="3.4"/><rect x="261.4" y="459.0" width="8.2" height="8.2" fill="#fff" stroke="#000000" stroke-width="3.4"/><rect x="268.9" y="459.8" width="8.2" height="8.2" fill="#fff" stroke="#000000" stroke-width="3.4"/><rect x="276.3" y="460.3" width="8.2" height="8.2" fill="#fff" stroke="#000000" stroke-width="3.4"/><rect x="283.8" y="460.1" width="8.2" height="8.2" fill="#fff" stroke="#000000" stroke-width="3.4"/><rect x="291.3" y="459.5" width="8.2" height="8.2" fill="#fff" stroke="#000000" stroke-width="3.4"/><rect x="298.8" y="459.2" width="8.2" height="8.2" fill="#fff" stroke="#000000" stroke-width="3.4"/><rect x="306.2" y="459.2" width="8.2" height="8.2" fill="#fff" stroke="#000000" stroke-width="3.4"/><rect x="313.7" y="459.2" width="8.2" height="8.2" fill="#fff" stroke="#000000" stroke-width="3.4"/><rect x="321.2" y="459.2" width="8.2" height="8.2" fill="#fff" stroke="#000000" stroke-width="3.4"/><rect x="328.6" y="459.2" width="8.2" height="8.2" fill="#fff" stroke="#000000" stroke-width="3.4"/><rect x="336.1" y="459.2" width="8.2" height="8.2" fill="#fff" stroke="#000000" stroke-width="3.4"/><rect x="343.6" y="459.2" width="8.2" height="8.2" fill="#fff" stroke="#000000" stroke-width="3.4"/><rect x="351.0" y="459.2" width="8.2" height="8.2" fill="#fff" stroke="#000000" stroke-width="3.4"/><rect x="358.5" y="459.2" width="8.2" height="8.2" fill="#fff" stroke="#000000" stroke-width="3.4"/><rect x="366.0" y="459.2" width="8.2" height="8.2" fill="#fff" stroke="#000000" stroke-width="3.4"/><rect x="373.4" y="459.2" width="8.2" height="8.2" fill="#fff" stroke="#000000" stroke-width="3.4"/><rect x="380.9" y="459.2" width="8.2" height="8.2" fill="#fff" stroke="#000000" stroke-width="3.4"/><rect x="388.4" y="459.5" width="8.2" height="8.2" fill="#fff" stroke="#000000" stroke-width="3.4"/><rect x="395.8" y="460.3" width="8.2" height="8.2" fill="#fff" stroke="#000000" stroke-width="3.4"/><rect x="403.3" y="461.2" width="8.2" height="8.2" fill="#fff" stroke="#000000" stroke-width="3.4"/><rect x="410.8" y="462.0" width="8.2" height="8.2" fill="#fff" stroke="#000000" stroke-width="3.4"/><rect x="418.2" y="462.8" width="8.2" height="8.2" fill="#fff" stroke="#000000" stroke-width="3.4"/><rect x="425.7" y="463.7" width="8.2" height="8.2" fill="#fff" stroke="#000000" stroke-width="3.4"/><rect x="433.2" y="464.3" width="8.2" height="8.2" fill="#fff" stroke="#000000" stroke-width="3.4"/><rect x="440.6" y="464.9" width="8.2" height="8.2" fill="#fff" stroke="#000000" stroke-width="3.4"/><rect x="448.1" y="465.5" width="8.2" height="8.2" fill="#fff" stroke="#000000" stroke-width="3.4"/><rect x="455.6" y="466.1" width="8.2" height="8.2" fill="#fff" stroke="#000000" stroke-width="3.4"/><rect x="463.0" y="466.7" width="8.2" height="8.2" fill="#fff" stroke="#000000" stroke-width="3.4"/><rect x="470.5" y="467.1" width="8.2" height="8.2" fill="#fff" stroke="#000000" stroke-width="3.4"/><rect x="478.0" y="467.5" width="8.2" height="8.2" fill="#fff" stroke="#000000" stroke-width="3.4"/><rect x="485.5" y="467.9" width="8.2" height="8.2" fill="#fff" stroke="#000000" stroke-width="3.4"/><rect x="492.9" y="468.3" width="8.2" height="8.2" fill="#fff" stroke="#000000" stroke-width="3.4"/><rect x="500.4" y="468.7" width="8.2" height="8.2" fill="#fff" stroke="#000000" stroke-width="3.4"/><rect x="507.9" y="469.1" width="8.2" height="8.2" fill="#fff" stroke="#000000" stroke-width="3.4"/><rect x="515.3" y="469.5" width="8.2" height="8.2" fill="#fff" stroke="#000000" stroke-width="3.4"/><rect x="522.8" y="469.9" width="8.2" height="8.2" fill="#fff" stroke="#000000" stroke-width="3.4"/><rect x="530.3" y="470.2" width="8.2" height="8.2" fill="#fff" stroke="#000000" stroke-width="3.4"/><rect x="537.7" y="470.5" width="8.2" height="8.2" fill="#fff" stroke="#000000" stroke-width="3.4"/><rect x="545.2" y="470.8" width="8.2" height="8.2" fill="#fff" stroke="#000000" stroke-width="3.4"/><rect x="552.7" y="471.1" width="8.2" height="8.2" fill="#fff" stroke="#000000" stroke-width="3.4"/><rect x="560.1" y="471.3" width="8.2" height="8.2" fill="#fff" stroke="#000000" stroke-width="3.4"/><rect x="567.6" y="471.6" width="8.2" height="8.2" fill="#fff" stroke="#000000" stroke-width="3.4"/><rect x="575.1" y="471.9" width="8.2" height="8.2" fill="#fff" stroke="#000000" stroke-width="3.4"/><rect x="582.5" y="472.2" width="8.2" height="8.2" fill="#fff" stroke="#000000" stroke-width="3.4"/><rect x="590.0" y="472.5" width="8.2" height="8.2" fill="#fff" stroke="#000000" stroke-width="3.4"/><rect x="597.5" y="472.8" width="8.2" height="8.2" fill="#fff" stroke="#000000" stroke-width="3.4"/><rect x="604.9" y="473.1" width="8.2" height="8.2" fill="#fff" stroke="#000000" stroke-width="3.4"/><rect x="612.4" y="473.4" width="8.2" height="8.2" fill="#fff" stroke="#000000" stroke-width="3.4"/><rect x="619.9" y="473.6" width="8.2" height="8.2" fill="#fff" stroke="#000000" stroke-width="3.4"/><rect x="627.3" y="473.7" width="8.2" height="8.2" fill="#fff" stroke="#000000" stroke-width="3.4"/><rect x="634.8" y="473.9" width="8.2" height="8.2" fill="#fff" stroke="#000000" stroke-width="3.4"/><rect x="642.3" y="473.9" width="8.2" height="8.2" fill="#fff" stroke="#000000" stroke-width="3.4"/><rect x="649.7" y="473.9" width="8.2" height="8.2" fill="#fff" stroke="#000000" stroke-width="3.4"/><rect x="657.2" y="473.9" width="8.2" height="8.2" fill="#fff" stroke="#000000" stroke-width="3.4"/><rect x="664.7" y="473.9" width="8.2" height="8.2" fill="#fff" stroke="#000000" stroke-width="3.4"/><rect x="672.2" y="473.9" width="8.2" height="8.2" fill="#fff" stroke="#000000" stroke-width="3.4"/><rect x="679.6" y="473.9" width="8.2" height="8.2" fill="#fff" stroke="#000000" stroke-width="3.4"/><rect x="687.1" y="473.9" width="8.2" height="8.2" fill="#fff" stroke="#000000" stroke-width="3.4"/><rect x="694.6" y="473.9" width="8.2" height="8.2" fill="#fff" stroke="#000000" stroke-width="3.4"/><rect x="702.0" y="473.9" width="8.2" height="8.2" fill="#fff" stroke="#000000" stroke-width="3.4"/><rect x="709.5" y="473.9" width="8.2" height="8.2" fill="#fff" stroke="#000000" stroke-width="3.4"/><rect x="717.0" y="473.9" width="8.2" height="8.2" fill="#fff" stroke="#000000" stroke-width="3.4"/><rect x="724.4" y="473.9" width="8.2" height="8.2" fill="#fff" stroke="#000000" stroke-width="3.4"/><rect x="731.9" y="473.9" width="8.2" height="8.2" fill="#fff" stroke="#000000" stroke-width="3.4"/><rect x="739.4" y="473.9" width="8.2" height="8.2" fill="#fff" stroke="#000000" stroke-width="3.4"/><rect x="746.8" y="473.9" width="8.2" height="8.2" fill="#fff" stroke="#000000" stroke-width="3.4"/><rect x="754.3" y="473.9" width="8.2" height="8.2" fill="#fff" stroke="#000000" stroke-width="3.4"/><rect x="761.8" y="473.9" width="8.2" height="8.2" fill="#fff" stroke="#000000" stroke-width="3.4"/><rect x="769.2" y="473.9" width="8.2" height="8.2" fill="#fff" stroke="#000000" stroke-width="3.4"/><rect x="776.7" y="475.9" width="8.2" height="8.2" fill="#fff" stroke="#000000" stroke-width="3.4"/><rect x="784.2" y="476.0" width="8.2" height="8.2" fill="#fff" stroke="#000000" stroke-width="3.4"/><rect x="791.6" y="476.1" width="8.2" height="8.2" fill="#fff" stroke="#000000" stroke-width="3.4"/><rect x="799.1" y="476.1" width="8.2" height="8.2" fill="#fff" stroke="#000000" stroke-width="3.4"/><rect x="806.6" y="476.2" width="8.2" height="8.2" fill="#fff" stroke="#000000" stroke-width="3.4"/><rect x="814.0" y="476.3" width="8.2" height="8.2" fill="#fff" stroke="#000000" stroke-width="3.4"/><rect x="821.5" y="476.4" width="8.2" height="8.2" fill="#fff" stroke="#000000" stroke-width="3.4"/><rect x="829.0" y="476.4" width="8.2" height="8.2" fill="#fff" stroke="#000000" stroke-width="3.4"/><rect x="836.4" y="476.5" width="8.2" height="8.2" fill="#fff" stroke="#000000" stroke-width="3.4"/><rect x="843.9" y="476.6" width="8.2" height="8.2" fill="#fff" stroke="#000000" stroke-width="3.4"/><rect x="851.4" y="476.7" width="8.2" height="8.2" fill="#fff" stroke="#000000" stroke-width="3.4"/><rect x="858.9" y="476.7" width="8.2" height="8.2" fill="#fff" stroke="#000000" stroke-width="3.4"/><rect x="866.3" y="476.8" width="8.2" height="8.2" fill="#fff" stroke="#000000" stroke-width="3.4"/><rect x="873.8" y="476.9" width="8.2" height="8.2" fill="#fff" stroke="#000000" stroke-width="3.4"/><rect x="881.3" y="477.5" width="8.2" height="8.2" fill="#fff" stroke="#000000" stroke-width="3.4"/><rect x="888.7" y="478.3" width="8.2" height="8.2" fill="#fff" stroke="#000000" stroke-width="3.4"/><rect x="896.2" y="479.1" width="8.2" height="8.2" fill="#fff" stroke="#000000" stroke-width="3.4"/><rect x="903.7" y="479.1" width="8.2" height="8.2" fill="#fff" stroke="#000000" stroke-width="3.4"/><rect x="911.1" y="479.1" width="8.2" height="8.2" fill="#fff" stroke="#000000" stroke-width="3.4"/><rect x="918.6" y="479.1" width="8.2" height="8.2" fill="#fff" stroke="#000000" stroke-width="3.4"/><rect x="926.1" y="479.1" width="8.2" height="8.2" fill="#fff" stroke="#000000" stroke-width="3.4"/><rect x="933.5" y="479.1" width="8.2" height="8.2" fill="#fff" stroke="#000000" stroke-width="3.4"/><rect x="941.0" y="479.1" width="8.2" height="8.2" fill="#fff" stroke="#000000" stroke-width="3.4"/><polyline points="215.5,378.0 213.2,370.2 220.7,403.0 228.2,424.9 235.6,439.0 243.1,446.0 250.6,450.0 258.0,452.1 265.5,454.1 273.0,455.6 280.4,456.4 287.9,456.5 295.4,456.7 302.9,456.8 310.3,456.9 317.8,457.0 325.3,457.0 332.7,457.1 340.2,457.2 347.7,457.2 355.1,457.3 362.6,457.7 370.1,458.0 377.5,458.4 385.0,458.7 392.5,459.2 399.9,460.0 407.4,460.9 414.9,461.8 422.3,462.6 429.8,463.4 437.3,463.9 444.7,464.4 452.2,464.9 459.7,465.5 467.1,466.0 474.6,466.7 482.1,467.9 489.6,468.4 497.0,468.9 504.5,469.3 512.0,469.8 519.4,470.2 526.9,470.5 534.4,470.9 541.8,471.2 549.3,471.6 556.8,471.9 564.2,472.3 571.7,472.6 579.2,473.0 586.6,473.2 594.1,473.5 601.6,473.8 609.0,474.1 616.5,474.3 624.0,474.6 631.4,474.9 638.9,475.0 646.4,475.1 653.8,475.1 661.3,475.2 668.8,475.2 676.3,475.3 683.7,475.3 691.2,475.4 698.7,475.5 706.1,475.5 713.6,475.6 721.1,475.6 728.5,475.7 736.0,475.7 743.5,475.8 750.9,475.8 758.4,475.9 765.9,475.9 773.3,476.0 780.8,478.2 788.3,478.3 795.7,478.3 803.2,478.4 810.7,478.4 818.1,478.5 825.6,478.6 833.1,478.6 840.5,478.7 848.0,478.7 855.5,478.8 863.0,478.9 870.4,478.9 877.9,479.0 885.4,479.7 892.8,480.7 900.3,481.6 907.8,481.6 915.2,481.6 922.7,481.6 930.2,481.6 937.6,481.6 945.1,481.6" fill="none" stroke="#ff0000" stroke-width="2.5" stroke-linejoin="round"/><circle cx="220.7" cy="403.0" r="5.1" fill="#fff" stroke="#ff0000" stroke-width="3.6"/><circle cx="228.2" cy="424.9" r="5.1" fill="#fff" stroke="#ff0000" stroke-width="3.6"/><circle cx="235.6" cy="439.0" r="5.1" fill="#fff" stroke="#ff0000" stroke-width="3.6"/><circle cx="243.1" cy="446.0" r="5.1" fill="#fff" stroke="#ff0000" stroke-width="3.6"/><circle cx="250.6" cy="450.0" r="5.1" fill="#fff" stroke="#ff0000" stroke-width="3.6"/><circle cx="258.0" cy="452.1" r="5.1" fill="#fff" stroke="#ff0000" stroke-width="3.6"/><circle cx="265.5" cy="454.1" r="5.1" fill="#fff" stroke="#ff0000" stroke-width="3.6"/><circle cx="273.0" cy="455.6" r="5.1" fill="#fff" stroke="#ff0000" stroke-width="3.6"/><circle cx="280.4" cy="456.4" r="5.1" fill="#fff" stroke="#ff0000" stroke-width="3.6"/><circle cx="287.9" cy="456.5" r="5.1" fill="#fff" stroke="#ff0000" stroke-width="3.6"/><circle cx="295.4" cy="456.7" r="5.1" fill="#fff" stroke="#ff0000" stroke-width="3.6"/><circle cx="302.9" cy="456.8" r="5.1" fill="#fff" stroke="#ff0000" stroke-width="3.6"/><circle cx="310.3" cy="456.9" r="5.1" fill="#fff" stroke="#ff0000" stroke-width="3.6"/><circle cx="317.8" cy="457.0" r="5.1" fill="#fff" stroke="#ff0000" stroke-width="3.6"/><circle cx="325.3" cy="457.0" r="5.1" fill="#fff" stroke="#ff0000" stroke-width="3.6"/><circle cx="332.7" cy="457.1" r="5.1" fill="#fff" stroke="#ff0000" stroke-width="3.6"/><circle cx="340.2" cy="457.2" r="5.1" fill="#fff" stroke="#ff0000" stroke-width="3.6"/><circle cx="347.7" cy="457.2" r="5.1" fill="#fff" stroke="#ff0000" stroke-width="3.6"/><circle cx="355.1" cy="457.3" r="5.1" fill="#fff" stroke="#ff0000" stroke-width="3.6"/><circle cx="362.6" cy="457.7" r="5.1" fill="#fff" stroke="#ff0000" stroke-width="3.6"/><circle cx="370.1" cy="458.0" r="5.1" fill="#fff" stroke="#ff0000" stroke-width="3.6"/><circle cx="377.5" cy="458.4" r="5.1" fill="#fff" stroke="#ff0000" stroke-width="3.6"/><circle cx="385.0" cy="458.7" r="5.1" fill="#fff" stroke="#ff0000" stroke-width="3.6"/><circle cx="392.5" cy="459.2" r="5.1" fill="#fff" stroke="#ff0000" stroke-width="3.6"/><circle cx="399.9" cy="460.0" r="5.1" fill="#fff" stroke="#ff0000" stroke-width="3.6"/><circle cx="407.4" cy="460.9" r="5.1" fill="#fff" stroke="#ff0000" stroke-width="3.6"/><circle cx="414.9" cy="461.8" r="5.1" fill="#fff" stroke="#ff0000" stroke-width="3.6"/><circle cx="422.3" cy="462.6" r="5.1" fill="#fff" stroke="#ff0000" stroke-width="3.6"/><circle cx="429.8" cy="463.4" r="5.1" fill="#fff" stroke="#ff0000" stroke-width="3.6"/><circle cx="437.3" cy="463.9" r="5.1" fill="#fff" stroke="#ff0000" stroke-width="3.6"/><circle cx="444.7" cy="464.4" r="5.1" fill="#fff" stroke="#ff0000" stroke-width="3.6"/><circle cx="452.2" cy="464.9" r="5.1" fill="#fff" stroke="#ff0000" stroke-width="3.6"/><circle cx="459.7" cy="465.5" r="5.1" fill="#fff" stroke="#ff0000" stroke-width="3.6"/><circle cx="467.1" cy="466.0" r="5.1" fill="#fff" stroke="#ff0000" stroke-width="3.6"/><circle cx="474.6" cy="466.7" r="5.1" fill="#fff" stroke="#ff0000" stroke-width="3.6"/><circle cx="482.1" cy="467.9" r="5.1" fill="#fff" stroke="#ff0000" stroke-width="3.6"/><circle cx="489.6" cy="468.4" r="5.1" fill="#fff" stroke="#ff0000" stroke-width="3.6"/><circle cx="497.0" cy="468.9" r="5.1" fill="#fff" stroke="#ff0000" stroke-width="3.6"/><circle cx="504.5" cy="469.3" r="5.1" fill="#fff" stroke="#ff0000" stroke-width="3.6"/><circle cx="512.0" cy="469.8" r="5.1" fill="#fff" stroke="#ff0000" stroke-width="3.6"/><circle cx="519.4" cy="470.2" r="5.1" fill="#fff" stroke="#ff0000" stroke-width="3.6"/><circle cx="526.9" cy="470.5" r="5.1" fill="#fff" stroke="#ff0000" stroke-width="3.6"/><circle cx="534.4" cy="470.9" r="5.1" fill="#fff" stroke="#ff0000" stroke-width="3.6"/><circle cx="541.8" cy="471.2" r="5.1" fill="#fff" stroke="#ff0000" stroke-width="3.6"/><circle cx="549.3" cy="471.6" r="5.1" fill="#fff" stroke="#ff0000" stroke-width="3.6"/><circle cx="556.8" cy="471.9" r="5.1" fill="#fff" stroke="#ff0000" stroke-width="3.6"/><circle cx="564.2" cy="472.3" r="5.1" fill="#fff" stroke="#ff0000" stroke-width="3.6"/><circle cx="571.7" cy="472.6" r="5.1" fill="#fff" stroke="#ff0000" stroke-width="3.6"/><circle cx="579.2" cy="473.0" r="5.1" fill="#fff" stroke="#ff0000" stroke-width="3.6"/><circle cx="586.6" cy="473.2" r="5.1" fill="#fff" stroke="#ff0000" stroke-width="3.6"/><circle cx="594.1" cy="473.5" r="5.1" fill="#fff" stroke="#ff0000" stroke-width="3.6"/><circle cx="601.6" cy="473.8" r="5.1" fill="#fff" stroke="#ff0000" stroke-width="3.6"/><circle cx="609.0" cy="474.1" r="5.1" fill="#fff" stroke="#ff0000" stroke-width="3.6"/><circle cx="616.5" cy="474.3" r="5.1" fill="#fff" stroke="#ff0000" stroke-width="3.6"/><circle cx="624.0" cy="474.6" r="5.1" fill="#fff" stroke="#ff0000" stroke-width="3.6"/><circle cx="631.4" cy="474.9" r="5.1" fill="#fff" stroke="#ff0000" stroke-width="3.6"/><circle cx="638.9" cy="475.0" r="5.1" fill="#fff" stroke="#ff0000" stroke-width="3.6"/><circle cx="646.4" cy="475.1" r="5.1" fill="#fff" stroke="#ff0000" stroke-width="3.6"/><circle cx="653.8" cy="475.1" r="5.1" fill="#fff" stroke="#ff0000" stroke-width="3.6"/><circle cx="661.3" cy="475.2" r="5.1" fill="#fff" stroke="#ff0000" stroke-width="3.6"/><circle cx="668.8" cy="475.2" r="5.1" fill="#fff" stroke="#ff0000" stroke-width="3.6"/><circle cx="676.3" cy="475.3" r="5.1" fill="#fff" stroke="#ff0000" stroke-width="3.6"/><circle cx="683.7" cy="475.3" r="5.1" fill="#fff" stroke="#ff0000" stroke-width="3.6"/><circle cx="691.2" cy="475.4" r="5.1" fill="#fff" stroke="#ff0000" stroke-width="3.6"/><circle cx="698.7" cy="475.5" r="5.1" fill="#fff" stroke="#ff0000" stroke-width="3.6"/><circle cx="706.1" cy="475.5" r="5.1" fill="#fff" stroke="#ff0000" stroke-width="3.6"/><circle cx="713.6" cy="475.6" r="5.1" fill="#fff" stroke="#ff0000" stroke-width="3.6"/><circle cx="721.1" cy="475.6" r="5.1" fill="#fff" stroke="#ff0000" stroke-width="3.6"/><circle cx="728.5" cy="475.7" r="5.1" fill="#fff" stroke="#ff0000" stroke-width="3.6"/><circle cx="736.0" cy="475.7" r="5.1" fill="#fff" stroke="#ff0000" stroke-width="3.6"/><circle cx="743.5" cy="475.8" r="5.1" fill="#fff" stroke="#ff0000" stroke-width="3.6"/><circle cx="750.9" cy="475.8" r="5.1" fill="#fff" stroke="#ff0000" stroke-width="3.6"/><circle cx="758.4" cy="475.9" r="5.1" fill="#fff" stroke="#ff0000" stroke-width="3.6"/><circle cx="765.9" cy="475.9" r="5.1" fill="#fff" stroke="#ff0000" stroke-width="3.6"/><circle cx="773.3" cy="476.0" r="5.1" fill="#fff" stroke="#ff0000" stroke-width="3.6"/><circle cx="780.8" cy="478.2" r="5.1" fill="#fff" stroke="#ff0000" stroke-width="3.6"/><circle cx="788.3" cy="478.3" r="5.1" fill="#fff" stroke="#ff0000" stroke-width="3.6"/><circle cx="795.7" cy="478.3" r="5.1" fill="#fff" stroke="#ff0000" stroke-width="3.6"/><circle cx="803.2" cy="478.4" r="5.1" fill="#fff" stroke="#ff0000" stroke-width="3.6"/><circle cx="810.7" cy="478.4" r="5.1" fill="#fff" stroke="#ff0000" stroke-width="3.6"/><circle cx="818.1" cy="478.5" r="5.1" fill="#fff" stroke="#ff0000" stroke-width="3.6"/><circle cx="825.6" cy="478.6" r="5.1" fill="#fff" stroke="#ff0000" stroke-width="3.6"/><circle cx="833.1" cy="478.6" r="5.1" fill="#fff" stroke="#ff0000" stroke-width="3.6"/><circle cx="840.5" cy="478.7" r="5.1" fill="#fff" stroke="#ff0000" stroke-width="3.6"/><circle cx="848.0" cy="478.7" r="5.1" fill="#fff" stroke="#ff0000" stroke-width="3.6"/><circle cx="855.5" cy="478.8" r="5.1" fill="#fff" stroke="#ff0000" stroke-width="3.6"/><circle cx="863.0" cy="478.9" r="5.1" fill="#fff" stroke="#ff0000" stroke-width="3.6"/><circle cx="870.4" cy="478.9" r="5.1" fill="#fff" stroke="#ff0000" stroke-width="3.6"/><circle cx="877.9" cy="479.0" r="5.1" fill="#fff" stroke="#ff0000" stroke-width="3.6"/><circle cx="885.4" cy="479.7" r="5.1" fill="#fff" stroke="#ff0000" stroke-width="3.6"/><circle cx="892.8" cy="480.7" r="5.1" fill="#fff" stroke="#ff0000" stroke-width="3.6"/><circle cx="900.3" cy="481.6" r="5.1" fill="#fff" stroke="#ff0000" stroke-width="3.6"/><circle cx="907.8" cy="481.6" r="5.1" fill="#fff" stroke="#ff0000" stroke-width="3.6"/><circle cx="915.2" cy="481.6" r="5.1" fill="#fff" stroke="#ff0000" stroke-width="3.6"/><circle cx="922.7" cy="481.6" r="5.1" fill="#fff" stroke="#ff0000" stroke-width="3.6"/><circle cx="930.2" cy="481.6" r="5.1" fill="#fff" stroke="#ff0000" stroke-width="3.6"/><circle cx="937.6" cy="481.6" r="5.1" fill="#fff" stroke="#ff0000" stroke-width="3.6"/><circle cx="945.1" cy="481.6" r="5.1" fill="#fff" stroke="#ff0000" stroke-width="3.6"/></g><rect x="161.8" y="3.5" width="821.8" height="558" fill="none" stroke="#000" stroke-width="3.2"/><line x1="201" y1="3.6" x2="210.5" y2="3.6" stroke="#009000" stroke-width="2.6"/><line x1="161.5" y1="518.8" x2="168.5" y2="518.8" stroke="#000" stroke-width="3"/><line x1="161.5" y1="475.8" x2="173.5" y2="475.8" stroke="#000" stroke-width="3"/><line x1="161.5" y1="432.9" x2="168.5" y2="432.9" stroke="#000" stroke-width="3"/><line x1="161.5" y1="390.0" x2="173.5" y2="390.0" stroke="#000" stroke-width="3"/><line x1="161.5" y1="347.1" x2="168.5" y2="347.1" stroke="#000" stroke-width="3"/><line x1="161.5" y1="304.1" x2="173.5" y2="304.1" stroke="#000" stroke-width="3"/><line x1="161.5" y1="261.2" x2="168.5" y2="261.2" stroke="#000" stroke-width="3"/><line x1="161.5" y1="218.3" x2="173.5" y2="218.3" stroke="#000" stroke-width="3"/><line x1="161.5" y1="175.3" x2="168.5" y2="175.3" stroke="#000" stroke-width="3"/><line x1="161.5" y1="132.4" x2="173.5" y2="132.4" stroke="#000" stroke-width="3"/><line x1="161.5" y1="89.5" x2="168.5" y2="89.5" stroke="#000" stroke-width="3"/><line x1="161.5" y1="46.5" x2="173.5" y2="46.5" stroke="#000" stroke-width="3"/><line x1="201.2" y1="561.5" x2="201.2" y2="554.5" stroke="#000" stroke-width="3"/><line x1="350.1" y1="561.5" x2="350.1" y2="554.5" stroke="#000" stroke-width="3"/><line x1="499.1" y1="561.5" x2="499.1" y2="554.5" stroke="#000" stroke-width="3"/><line x1="648.0" y1="561.5" x2="648.0" y2="554.5" stroke="#000" stroke-width="3"/><line x1="797.0" y1="561.5" x2="797.0" y2="554.5" stroke="#000" stroke-width="3"/><line x1="945.9" y1="561.5" x2="945.9" y2="554.5" stroke="#000" stroke-width="3"/><text x="150" y="570.2" text-anchor="end" class="tk">200</text><text x="150" y="484.3" text-anchor="end" class="tk">400</text><text x="150" y="398.5" text-anchor="end" class="tk">600</text><text x="150" y="312.6" text-anchor="end" class="tk">800</text><text x="150" y="226.8" text-anchor="end" class="tk">1000</text><text x="150" y="140.9" text-anchor="end" class="tk">1200</text><text x="150" y="55.0" text-anchor="end" class="tk">1400</text><text x="200.2" y="598" text-anchor="middle" class="tk">0</text><text x="349.1" y="598" text-anchor="middle" class="tk">20</text><text x="498.1" y="598" text-anchor="middle" class="tk">40</text><text x="647.0" y="598" text-anchor="middle" class="tk">60</text><text x="796.0" y="598" text-anchor="middle" class="tk">80</text><text x="944.9" y="598" text-anchor="middle" class="tk">100</text><text x="570" y="662" text-anchor="middle" class="ax">Cycle number</text><text transform="translate(36,474) rotate(-90) scale(0.96,1)" x="0" y="0" class="ay">Specific capacity / mAh <tspan dx="3">g</tspan><tspan dy="-19" dx="1" font-size="20">-1</tspan></text><line x1="671.5" y1="281.9" x2="687.3" y2="265.8" stroke="#000" stroke-width="2.5"/><polygon points="664.5,289 674.2,284.5 668.8,279.2" fill="#000"/><line x1="725.2" y1="335.1" x2="747.3" y2="347" stroke="#000" stroke-width="2.5"/><polygon points="716.4,330.3 723.4,338.4 727.0,331.7" fill="#000"/><line x1="806.4" y1="423.2" x2="825.6" y2="405.6" stroke="#000" stroke-width="2.5"/><polygon points="799,430 808.9,426.0 803.8,420.4" fill="#000"/><line x1="601.6" y1="488.7" x2="620.3" y2="501.5" stroke="#000" stroke-width="2.5"/><polygon points="593.4,483 599.5,491.8 603.8,485.5" fill="#000"/><text transform="translate(686.8,266) scale(1.08,1)" class="lg" style="letter-spacing:2.57px">SnO:@C/graphene</text><text transform="translate(749.3,354) scale(1.08,1)" class="lg" style="letter-spacing:2.13px">SnO:/graphene</text><text transform="translate(824.7,407) scale(1.08,1)" class="lg" style="letter-spacing:3.47px">SnO:@C</text><text transform="translate(619.3,517) scale(1.08,1)" class="lg" style="letter-spacing:2.1px">carbon sphere/graphene</text>
</svg></body></html>
